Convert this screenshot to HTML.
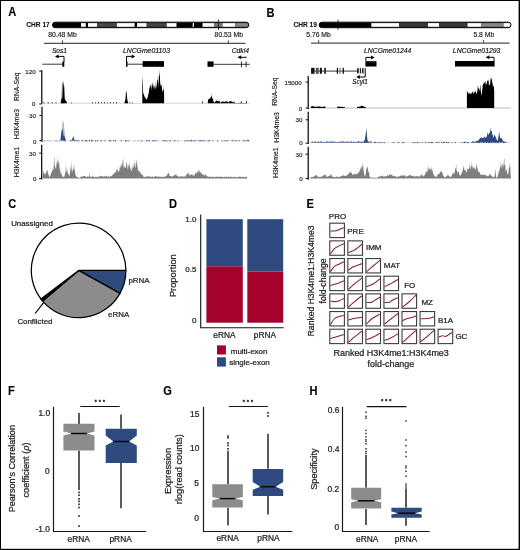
<!DOCTYPE html>
<html><head><meta charset="utf-8"><style>
html,body{margin:0;padding:0;background:#fff;}
svg{display:block;font-family:"Liberation Sans", sans-serif;}
svg{will-change:transform;}

</style></head><body>
<svg width="520" height="550" viewBox="0 0 520 550">
<rect width="520" height="550" fill="#fff"/>
<rect x="0" y="0" width="520" height="1" fill="#000"/>
<rect x="0" y="0" width="1" height="550" fill="#000"/>
<rect x="518.6" y="0" width="1.4" height="550" fill="#000"/>
<rect x="0" y="548.8" width="520" height="1.2" fill="#000"/>
<text transform="translate(8.19 16.44) scale(0.9 1)" font-size="12.333" font-weight="bold" fill="#000" stroke="#000" stroke-width="0.11">A</text>
<text transform="translate(266.49 16.54) scale(0.9 1)" font-size="12.333" font-weight="bold" fill="#000" stroke="#000" stroke-width="0.11">B</text>
<text transform="translate(8.34 208.04) scale(0.9 1)" font-size="12.333" font-weight="bold" fill="#000" stroke="#000" stroke-width="0.11">C</text>
<text transform="translate(168.99 208.44) scale(0.9 1)" font-size="12.333" font-weight="bold" fill="#000" stroke="#000" stroke-width="0.11">D</text>
<text transform="translate(306.6 208.44) scale(0.9 1)" font-size="12.333" font-weight="bold" fill="#000" stroke="#000" stroke-width="0.11">E</text>
<text transform="translate(7.96 395.24) scale(0.9 1)" font-size="12.333" font-weight="bold" fill="#000" stroke="#000" stroke-width="0.11">F</text>
<text transform="translate(163.18 395.14) scale(0.9 1)" font-size="12.333" font-weight="bold" fill="#000" stroke="#000" stroke-width="0.11">G</text>
<text transform="translate(309.59 395.44) scale(0.9 1)" font-size="12.333" font-weight="bold" fill="#000" stroke="#000" stroke-width="0.11">H</text>
<clipPath id="c52"><rect x="52.5" y="22.2" width="196.3" height="5.5" rx="2.75" ry="2.75"/></clipPath>
<g clip-path="url(#c52)">
<rect x="52.5" y="22.2" width="196.3" height="5.5" fill="#000"/>
<rect x="81" y="23.099999999999998" width="4.799999999999997" height="3.7" fill="#fff"/>
<rect x="88" y="23.099999999999998" width="9.299999999999997" height="3.7" fill="#fff"/>
<rect x="97.3" y="23.099999999999998" width="19.299999999999997" height="3.7" fill="#484848"/>
<rect x="116.8" y="23.099999999999998" width="17.799999999999997" height="3.7" fill="#fff"/>
<rect x="137" y="23.099999999999998" width="9.699999999999989" height="3.7" fill="#fff"/>
<rect x="146.7" y="23.099999999999998" width="20.0" height="3.7" fill="#444"/>
<rect x="166.7" y="23.099999999999998" width="9.800000000000011" height="3.7" fill="#fff"/>
<rect x="192.7" y="23.099999999999998" width="1.3000000000000114" height="3.7" fill="#fff"/>
<rect x="202.5" y="23.099999999999998" width="11.5" height="3.7" fill="#fff"/>
<rect x="214" y="23.099999999999998" width="8.5" height="3.7" fill="#777"/>
<rect x="222.5" y="23.099999999999998" width="12.699999999999989" height="3.7" fill="#fff"/>
<rect x="235.2" y="23.099999999999998" width="13.600000000000023" height="3.7" fill="#888"/>
</g>
<rect x="52.5" y="22.2" width="196.3" height="5.5" rx="2.75" ry="2.75" fill="none" stroke="#000" stroke-width="1"/>
<line x1="218.5" y1="19.599999999999998" x2="218.5" y2="29.9" stroke="#111" stroke-width="0.8"/>
<text transform="translate(26.31 27.27)" font-size="6.600" font-weight="bold" fill="#111" stroke="#111" stroke-width="0.08">CHR 17</text>
<clipPath id="c319"><rect x="319.2" y="22.2" width="191.8" height="5.5" rx="2.75" ry="2.75"/></clipPath>
<g clip-path="url(#c319)">
<rect x="319.2" y="22.2" width="191.8" height="5.5" fill="#000"/>
<rect x="371.3" y="23.099999999999998" width="27.69999999999999" height="3.7" fill="#fff"/>
<rect x="399" y="23.099999999999998" width="29" height="3.7" fill="#3a3a3a"/>
<rect x="428" y="23.099999999999998" width="11" height="3.7" fill="#fff"/>
<rect x="439" y="23.099999999999998" width="28.5" height="3.7" fill="#3a3a3a"/>
<rect x="467.5" y="23.099999999999998" width="13.5" height="3.7" fill="#fff"/>
<rect x="481" y="23.099999999999998" width="22.5" height="3.7" fill="#888"/>
<rect x="503.5" y="23.099999999999998" width="7.5" height="3.7" fill="#fff"/>
</g>
<rect x="319.2" y="22.2" width="191.8" height="5.5" rx="2.75" ry="2.75" fill="none" stroke="#000" stroke-width="1"/>
<line x1="338" y1="19.599999999999998" x2="338" y2="29.9" stroke="#111" stroke-width="0.8"/>
<text transform="translate(293.41 27.27)" font-size="6.600" font-weight="bold" fill="#111" stroke="#111" stroke-width="0.08">CHR 19</text>
<line x1="44" y1="43.3" x2="245.6" y2="43.3" stroke="#222" stroke-width="1"/>
<line x1="62.5" y1="40.3" x2="62.5" y2="43.3" stroke="#222" stroke-width="0.8"/>
<text transform="translate(48.32 37.28)" font-size="6.800" fill="#222" stroke="#222" stroke-width="0.16">80.48 Mb</text>
<line x1="228.4" y1="40.3" x2="228.4" y2="43.3" stroke="#222" stroke-width="0.8"/>
<text transform="translate(214.62 37.28)" font-size="6.800" fill="#222" stroke="#222" stroke-width="0.16">80.53 Mb</text>
<line x1="311" y1="43.1" x2="509.6" y2="43.1" stroke="#222" stroke-width="1"/>
<line x1="318.7" y1="40.1" x2="318.7" y2="43.1" stroke="#222" stroke-width="0.8"/>
<text transform="translate(306.22 37.28)" font-size="6.800" fill="#222" stroke="#222" stroke-width="0.16">5.76 Mb</text>
<line x1="483.6" y1="40.1" x2="483.6" y2="43.1" stroke="#222" stroke-width="0.8"/>
<text transform="translate(473.4 37.28)" font-size="6.800" fill="#222" stroke="#222" stroke-width="0.16">5.8 Mb</text>
<text transform="translate(51.93 52.67)" font-size="6.600" font-style="italic" fill="#111" stroke="#111" stroke-width="0.16">Sos1</text>
<text transform="translate(122.9 53.0)" font-size="6.850" font-style="italic" fill="#111" stroke="#111" stroke-width="0.16">LNCGme01103</text>
<text transform="translate(231.65 53.08)" font-size="6.800" font-style="italic" fill="#111" stroke="#111" stroke-width="0.16">Cdkl4</text>
<line x1="42.3" y1="64.2" x2="62.5" y2="64.2" stroke="#222" stroke-width="0.9"/>
<rect x="62.3" y="61.6" width="2" height="5.2" fill="#000"/>
<line x1="64" y1="56.4" x2="64" y2="62" stroke="#000" stroke-width="1"/>
<line x1="64" y1="56.4" x2="57.5" y2="56.4" stroke="#000" stroke-width="1"/>
<path d="M55 56.4 L58.6 54.4 L58.6 58.4 Z" fill="#000"/>
<line x1="126.5" y1="56.4" x2="126.5" y2="66.5" stroke="#000" stroke-width="1"/>
<line x1="126.5" y1="56.4" x2="132.7" y2="56.4" stroke="#000" stroke-width="1"/>
<path d="M135.2 56.4 L131.6 54.4 L131.6 58.4 Z" fill="#000"/>
<rect x="126" y="61.5" width="1.5" height="5.2" fill="#000"/>
<line x1="127" y1="64.2" x2="143" y2="64.2" stroke="#222" stroke-width="0.9"/>
<rect x="142.7" y="61.1" width="21.3" height="5.7" fill="#000"/>
<rect x="207.5" y="61.4" width="6.1" height="5.4" fill="#000"/>
<line x1="213.6" y1="64.3" x2="249.8" y2="64.3" stroke="#222" stroke-width="0.9"/>
<line x1="241.5" y1="61.4" x2="241.5" y2="67.1" stroke="#000" stroke-width="0.8"/>
<line x1="246.1" y1="61.4" x2="246.1" y2="67.1" stroke="#000" stroke-width="0.8"/>
<line x1="246.7" y1="57.3" x2="240.0" y2="57.3" stroke="#000" stroke-width="1"/>
<path d="M237.5 57.3 L241.1 55.3 L241.1 59.3 Z" fill="#000"/>
<text transform="translate(364.03 52.94)" font-size="6.800" font-style="italic" fill="#111" stroke="#111" stroke-width="0.16">LNCGme01244</text>
<text transform="translate(452.85 53.25)" font-size="6.850" font-style="italic" fill="#111" stroke="#111" stroke-width="0.16">LNCGme01293</text>
<text transform="translate(352.3 83.83)" font-size="6.300" font-style="italic" fill="#111" stroke="#111" stroke-width="0.16">Scyl1</text>
<rect x="365.4" y="61.2" width="11.1" height="5.3" fill="#000"/>
<line x1="365.9" y1="57.4" x2="365.9" y2="61.2" stroke="#000" stroke-width="1"/>
<line x1="365.9" y1="57.4" x2="372.1" y2="57.4" stroke="#000" stroke-width="1"/>
<path d="M374.6 57.4 L371.0 55.4 L371.0 59.4 Z" fill="#000"/>
<rect x="455" y="61" width="39.6" height="5.5" fill="#000"/>
<line x1="494" y1="57.3" x2="494" y2="61" stroke="#000" stroke-width="1"/>
<line x1="494" y1="57.3" x2="488.2" y2="57.3" stroke="#000" stroke-width="1"/>
<path d="M485.7 57.3 L489.3 55.3 L489.3 59.3 Z" fill="#000"/>
<line x1="311" y1="71.1" x2="358" y2="71.1" stroke="#222" stroke-width="0.9"/>
<rect x="311.1" y="67.8" width="3.3999999999999773" height="6" fill="#111"/>
<rect x="315.8" y="67.8" width="3.0" height="6" fill="#555"/>
<rect x="319.9" y="67.8" width="2.0" height="6" fill="#111"/>
<rect x="324.2" y="67.8" width="1.6999999999999886" height="6" fill="#222"/>
<rect x="336.8" y="67.8" width="1.1999999999999886" height="6" fill="#111"/>
<rect x="339.4" y="67.8" width="1.2000000000000455" height="6" fill="#777"/>
<rect x="342.6" y="67.8" width="1.2999999999999545" height="6" fill="#111"/>
<rect x="357.2" y="68.2" width="1.5" height="5.2" fill="#000"/>
<rect x="359.8" y="68.2" width="1.3000000000000114" height="5.2" fill="#222"/>
<rect x="362.2" y="68.2" width="1.3000000000000114" height="5.2" fill="#000"/>
<line x1="365.2" y1="68.2" x2="365.2" y2="77" stroke="#000" stroke-width="1"/>
<line x1="365.2" y1="77" x2="358.7" y2="77" stroke="#000" stroke-width="1"/>
<path d="M356.2 77 L359.8 75.0 L359.8 79.0 Z" fill="#000"/>
<text transform="translate(18.69 100.9) rotate(-90)" font-size="6.700" fill="#222" stroke="#222" stroke-width="0.16">RNA-Seq</text>
<line x1="41.8" y1="70.2" x2="41.8" y2="104" stroke="#000" stroke-width="1.2"/>
<line x1="39.199999999999996" y1="71.1" x2="41.8" y2="71.1" stroke="#111" stroke-width="1"/>
<text transform="translate(25.33 73.78)" font-size="6.200" fill="#222" stroke="#222" stroke-width="0.16">120</text>
<line x1="39.199999999999996" y1="104" x2="41.8" y2="104" stroke="#111" stroke-width="1"/>
<text transform="translate(31.93 106.13)" font-size="6.200" fill="#222" stroke="#222" stroke-width="0.16">0</text>
<line x1="42" y1="103.3" x2="250" y2="103.3" stroke="#bbb" stroke-width="0.6"/>
<rect x="43.5" y="102.1" width="0.8" height="1.2" fill="#000"/>
<rect x="47.8" y="102.0" width="0.8" height="1.3" fill="#000"/>
<rect x="51.8" y="102.1" width="0.8" height="1.2" fill="#000"/>
<rect x="55.6" y="102.3" width="0.8" height="1" fill="#000"/>
<rect x="71.1" y="102.5" width="0.8" height="0.8" fill="#000"/>
<rect x="92" y="102.1" width="0.8" height="1.2" fill="#000"/>
<rect x="95" y="102.3" width="0.8" height="1" fill="#000"/>
<rect x="98" y="101.89999999999999" width="0.8" height="1.4" fill="#000"/>
<rect x="101" y="102.3" width="0.8" height="1" fill="#000"/>
<rect x="104" y="102.0" width="0.8" height="1.3" fill="#000"/>
<rect x="107" y="102.39999999999999" width="0.8" height="0.9" fill="#000"/>
<rect x="110" y="102.1" width="0.8" height="1.2" fill="#000"/>
<rect x="113" y="102.3" width="0.8" height="1" fill="#000"/>
<rect x="116" y="102.0" width="0.8" height="1.3" fill="#000"/>
<rect x="129.5" y="102.3" width="0.8" height="1" fill="#000"/>
<rect x="132" y="102.5" width="0.8" height="0.8" fill="#000"/>
<path d="M61.3 103.3 L61.30 101.00 L61.60 93.50 L61.90 86.00 L62.20 83.30 L62.40 81.50 L62.50 81.75 L62.80 82.50 L63.00 83.00 L63.10 84.80 L63.40 90.20 L63.50 92.00 L63.70 95.20 L64.00 100.00 L64 103.3 Z" fill="#808080"/>
<path d="M60.8 103.3 L60.80 101.00 L61.10 100.43 L61.40 99.52 L61.50 99.00 L61.70 98.68 L62.00 98.46 L62.30 97.86 L62.50 97.00 L62.60 95.72 L62.90 90.78 L63.20 86.00 L63.50 83.77 L63.70 80.20 L63.80 81.41 L64.10 86.60 L64.20 86.00 L64.40 90.52 L64.70 97.29 L64.80 99.00 L65.00 99.64 L65.30 100.06 L65.60 100.41 L65.80 100.50 L65.90 100.70 L66.20 101.28 L66.50 101.62 L66.80 102.00 L66.8 103.3 Z" fill="#000"/>
<path d="M124.5 103.3 L124.50 102.50 L124.80 101.49 L125.10 100.54 L125.40 99.54 L125.50 99.00 L125.70 95.94 L126.00 90.60 L126.30 91.64 L126.60 92.00 L126.90 95.66 L127.20 99.00 L127.50 100.42 L127.80 101.64 L128.00 102.50 L128 103.3 Z" fill="#000"/>
<path d="M142.3 103.3 L142.30 76.00 L142.65 84.16 L142.80 75.80 L143.00 88.89 L143.10 91.00 L143.35 94.07 L143.70 93.69 L144.05 95.41 L144.20 95.00 L144.40 97.57 L144.75 95.85 L145.10 98.77 L145.45 98.31 L145.80 97.30 L146.15 99.44 L146.50 98.79 L146.85 99.91 L147.20 98.66 L147.30 98.00 L147.55 97.50 L147.90 96.71 L148.25 94.28 L148.50 92.70 L148.60 95.05 L148.95 90.94 L149.30 89.24 L149.60 84.20 L149.65 87.39 L150.00 88.22 L150.35 85.12 L150.70 84.15 L151.05 87.72 L151.20 83.50 L151.40 86.02 L151.75 90.66 L152.10 85.23 L152.45 85.44 L152.70 82.30 L152.80 82.47 L153.15 84.25 L153.50 88.93 L153.80 83.50 L153.85 88.26 L154.20 85.19 L154.55 90.01 L154.90 85.44 L155.25 87.49 L155.40 79.20 L155.60 88.12 L155.95 89.36 L156.30 84.03 L156.50 82.70 L156.65 88.84 L157.00 85.19 L157.30 74.20 L157.35 81.62 L157.70 79.06 L158.00 80.40 L158.05 88.55 L158.40 82.74 L158.75 79.20 L159.10 72.38 L159.20 70.00 L159.45 74.29 L159.80 76.42 L160.00 76.50 L160.15 84.86 L160.50 85.02 L160.80 81.20 L160.85 87.07 L161.20 84.34 L161.55 85.66 L161.90 87.30 L162.25 92.08 L162.60 91.20 L162.95 90.68 L163.00 85.00 L163.30 89.66 L163.65 90.04 L163.80 88.00 L164.00 93.45 L164.10 90.00 L164.1 103.3 Z" fill="#000"/>
<path d="M207.8 103.3 L207.80 102.50 L208.20 99.00 L208.60 99.55 L209.00 99.19 L209.40 98.59 L209.50 98.50 L209.80 98.59 L210.20 98.47 L210.50 97.50 L210.60 97.75 L211.00 96.41 L211.40 96.54 L211.50 94.10 L211.80 95.96 L212.20 98.00 L212.60 98.65 L213.00 99.00 L213.40 100.94 L213.80 102.23 L214.00 102.80 L214.20 102.73 L214.60 102.19 L215.00 102.00 L215.40 101.63 L215.50 101.00 L215.80 101.19 L216.20 100.87 L216.50 99.90 L216.60 100.49 L217.00 100.86 L217.40 101.02 L217.80 101.03 L218.00 100.50 L218.20 101.17 L218.60 101.09 L219.00 101.40 L219.40 100.99 L219.70 101.00 L219.80 101.43 L220.20 102.38 L220.50 102.80 L220.60 102.81 L221.00 102.46 L221.40 102.12 L221.80 101.89 L222.10 101.20 L222.20 101.30 L222.60 101.31 L223.00 101.64 L223.40 101.71 L223.80 101.96 L224.00 101.60 L224.20 101.94 L224.60 101.73 L225.00 101.67 L225.40 101.27 L225.80 101.53 L226.00 101.00 L226.20 101.60 L226.60 101.18 L227.00 101.50 L227.40 101.78 L227.80 101.68 L227.90 101.50 L228.20 102.43 L228.50 102.80 L228.60 102.63 L229.00 101.50 L229.40 101.41 L229.80 101.34 L230.20 101.44 L230.50 100.90 L230.60 101.30 L231.00 101.49 L231.40 101.24 L231.80 101.45 L232.20 101.30 L232.60 102.26 L233.00 102.80 L233.40 102.37 L233.80 101.86 L234.10 101.50 L234.20 101.72 L234.60 102.33 L235.00 102.90 L235.40 102.93 L235.80 102.98 L236.20 102.95 L236.60 102.96 L237.00 103.00 L237.40 103.00 L237.80 102.97 L238.20 102.97 L238.60 102.93 L239.00 102.90 L239.40 102.96 L239.80 102.91 L240.20 102.90 L240.50 102.90 L240.60 102.60 L241.00 101.65 L241.30 100.40 L241.40 101.25 L241.80 102.40 L242.00 102.90 L242.20 102.98 L242.60 102.98 L243.00 102.94 L243.40 102.91 L243.80 102.92 L244.20 102.95 L244.60 102.93 L245.00 102.92 L245.40 102.99 L245.80 102.93 L246.00 102.90 L246.20 101.77 L246.60 99.40 L247.00 103.00 L247 103.3 Z" fill="#000"/>
<rect x="202" y="101.6" width="0.9" height="1.7" fill="#000"/>
<text transform="translate(19.4 139.28) rotate(-90)" font-size="6.850" fill="#222" stroke="#222" stroke-width="0.16">H3K4me3</text>
<line x1="42" y1="106.8" x2="42" y2="142" stroke="#000" stroke-width="1.2"/>
<line x1="39.4" y1="115.4" x2="42" y2="115.4" stroke="#111" stroke-width="1"/>
<text transform="translate(29.1 118.13)" font-size="6.200" fill="#222" stroke="#222" stroke-width="0.16">30</text>
<line x1="39.4" y1="140.6" x2="42" y2="140.6" stroke="#111" stroke-width="1"/>
<text transform="translate(33.03 143.63)" font-size="6.200" fill="#222" stroke="#222" stroke-width="0.16">0</text>
<line x1="42" y1="140.8" x2="250" y2="140.8" stroke="#c8cce0" stroke-width="0.6"/>
<rect x="44.10711303100254" y="140.61922194190714" width="0.9" height="0.6807780580928819" fill="#3a4868"/>
<rect x="47.48049414133801" y="140.34043994674" width="0.9" height="0.9595600532600332" fill="#3a4868"/>
<rect x="50.24083209072062" y="140.66249973807797" width="0.9" height="0.6375002619220373" fill="#3a4868"/>
<rect x="54.57622302037872" y="140.6797552677268" width="0.9" height="0.6202447322732317" fill="#3a4868"/>
<rect x="56.54291125743995" y="140.4261798957981" width="0.9" height="0.8738201042019046" fill="#3a4868"/>
<rect x="59.49590628711523" y="140.49047139006828" width="0.9" height="0.8095286099317255" fill="#3a4868"/>
<rect x="63.82919602639207" y="140.17297504423655" width="0.9" height="1.1270249557634702" fill="#3a4868"/>
<rect x="65.00854576289366" y="140.22372940653622" width="0.9" height="1.076270593463799" fill="#3a4868"/>
<rect x="70.06017488303445" y="140.0245134328326" width="0.9" height="1.2754865671673934" fill="#3a4868"/>
<rect x="71.52304575679364" y="140.1082106940186" width="0.9" height="1.1917893059814055" fill="#3a4868"/>
<rect x="74.15110088681928" y="140.05560590397093" width="0.9" height="1.2443940960290805" fill="#3a4868"/>
<rect x="75.644323635535" y="139.90881837578937" width="0.9" height="1.391181624210651" fill="#3a4868"/>
<rect x="77.15561887716213" y="140.3494351760456" width="0.9" height="0.9505648239544049" fill="#3a4868"/>
<rect x="78.5786442059021" y="140.4064787212863" width="0.9" height="0.8935212787137146" fill="#3a4868"/>
<rect x="81.77489659188304" y="139.81374382343316" width="0.9" height="1.4862561765668665" fill="#3a4868"/>
<rect x="83.54257806472522" y="140.565483165862" width="0.9" height="0.7345168341380277" fill="#3a4868"/>
<rect x="85.05063265060559" y="140.04825980397436" width="0.9" height="1.2517401960256431" fill="#3a4868"/>
<rect x="86.31909497746156" y="140.12110249526594" width="0.9" height="1.1788975047340764" fill="#3a4868"/>
<rect x="87.51122292074325" y="140.66059073997758" width="0.9" height="0.6394092600224273" fill="#3a4868"/>
<rect x="89.10986473236332" y="139.9482394110895" width="0.9" height="1.3517605889105044" fill="#3a4868"/>
<rect x="90.97950227029533" y="139.89725187970936" width="0.9" height="1.40274812029066" fill="#3a4868"/>
<rect x="92.28409575947717" y="140.13540108810128" width="0.9" height="1.1645989118987339" fill="#3a4868"/>
<rect x="95.19558929062931" y="140.03953308887074" width="0.9" height="1.2604669111292657" fill="#3a4868"/>
<rect x="96.83326512492815" y="139.96900297585887" width="0.9" height="1.3309970241411546" fill="#3a4868"/>
<rect x="99.83617768015037" y="140.57462315098272" width="0.9" height="0.7253768490172838" fill="#3a4868"/>
<rect x="101.16615024227887" y="140.22861844392435" width="0.9" height="1.0713815560756657" fill="#3a4868"/>
<rect x="104.33703763199388" y="140.2460660538701" width="0.9" height="1.0539339461299146" fill="#3a4868"/>
<rect x="108.86751673060668" y="139.9485561659067" width="0.9" height="1.3514438340933237" fill="#3a4868"/>
<rect x="110.30729688346119" y="139.97579015482611" width="0.9" height="1.3242098451738937" fill="#3a4868"/>
<rect x="113.3199712625475" y="139.95623179064822" width="0.9" height="1.3437682093517822" fill="#3a4868"/>
<rect x="115.0649006765231" y="140.1743446348744" width="0.9" height="1.1256553651256147" fill="#3a4868"/>
<rect x="120.83570828389863" y="139.89645323723505" width="0.9" height="1.403546762764957" fill="#3a4868"/>
<rect x="125.07297317263051" y="140.08539416744955" width="0.9" height="1.2146058325504505" fill="#3a4868"/>
<rect x="126.5435276597939" y="140.07600647823065" width="0.9" height="1.223993521769351" fill="#3a4868"/>
<rect x="128.0438724601836" y="140.49305335151718" width="0.9" height="0.8069466484828481" fill="#3a4868"/>
<rect x="134.4296719296729" y="140.67195552633945" width="0.9" height="0.6280444736605576" fill="#3a4868"/>
<rect x="137.52969970019424" y="140.58021612187173" width="0.9" height="0.7197838781282893" fill="#3a4868"/>
<rect x="140.5715024773514" y="140.37536327120986" width="0.9" height="0.9246367287901376" fill="#3a4868"/>
<rect x="141.79235646499453" y="140.60557517603817" width="0.9" height="0.6944248239618274" fill="#3a4868"/>
<rect x="146.2589130907986" y="139.94776092018003" width="0.9" height="1.352239079819974" fill="#3a4868"/>
<rect x="147.70346968660328" y="140.19732547815366" width="0.9" height="1.1026745218463412" fill="#3a4868"/>
<rect x="149.19111534100261" y="140.13500960233097" width="0.9" height="1.1649903976690517" fill="#3a4868"/>
<rect x="152.332430148685" y="140.1363961869605" width="0.9" height="1.1636038130395074" fill="#3a4868"/>
<rect x="153.51084918849622" y="140.0874022415273" width="0.9" height="1.2125977584727385" fill="#3a4868"/>
<rect x="155.37435624433513" y="140.25963511662624" width="0.9" height="1.040364883373779" fill="#3a4868"/>
<rect x="156.53857447555444" y="140.69701710558496" width="0.9" height="0.6029828944150631" fill="#3a4868"/>
<rect x="162.65933856340612" y="139.98207220313625" width="0.9" height="1.3179277968637673" fill="#3a4868"/>
<rect x="164.46739845804075" y="140.02656116679867" width="0.9" height="1.273438833201335" fill="#3a4868"/>
<rect x="165.57773333558342" y="140.2473260528738" width="0.9" height="1.0526739471262083" fill="#3a4868"/>
<rect x="167.54684828971017" y="140.2183201671932" width="0.9" height="1.0816798328067938" fill="#3a4868"/>
<rect x="170.08962076844244" y="140.1066304596261" width="0.9" height="1.1933695403739148" fill="#3a4868"/>
<rect x="173.42025046792796" y="140.64055467940008" width="0.9" height="0.6594453205999368" fill="#3a4868"/>
<rect x="174.53451590746457" y="140.036890504312" width="0.9" height="1.2631094956880253" fill="#3a4868"/>
<rect x="177.54344845683391" y="140.4730258216836" width="0.9" height="0.8269741783164211" fill="#3a4868"/>
<rect x="184.0137371818233" y="140.63299500002324" width="0.9" height="0.6670049999767561" fill="#3a4868"/>
<rect x="185.51766498143232" y="140.46099760002414" width="0.9" height="0.839002399975859" fill="#3a4868"/>
<rect x="186.7034910663708" y="140.04359846576455" width="0.9" height="1.256401534235457" fill="#3a4868"/>
<rect x="188.55600157044273" y="140.51530422562612" width="0.9" height="0.7846957743738778" fill="#3a4868"/>
<rect x="189.5775348799372" y="140.03415426772133" width="0.9" height="1.2658457322786676" fill="#3a4868"/>
<rect x="191.1430617016768" y="139.82183841530752" width="0.9" height="1.4781615846924936" fill="#3a4868"/>
<rect x="192.59686945495858" y="140.25544609903562" width="0.9" height="1.0445539009643952" fill="#3a4868"/>
<rect x="194.1210609492611" y="140.35569557049078" width="0.9" height="0.9443044295092364" fill="#3a4868"/>
<rect x="195.68300323872754" y="140.26889085233645" width="0.9" height="1.0311091476635634" fill="#3a4868"/>
<rect x="198.8000531599171" y="140.0846730935679" width="0.9" height="1.2153269064321162" fill="#3a4868"/>
<rect x="200.20820061327672" y="140.00972690476425" width="0.9" height="1.2902730952357704" fill="#3a4868"/>
<rect x="201.65026925371714" y="140.14472338579958" width="0.9" height="1.1552766142004247" fill="#3a4868"/>
<rect x="203.4398482300594" y="140.12151332215623" width="0.9" height="1.1784866778437877" fill="#3a4868"/>
<rect x="204.61367389789626" y="140.630275362434" width="0.9" height="0.6697246375660206" fill="#3a4868"/>
<rect x="206.5607857038694" y="140.5673174344108" width="0.9" height="0.7326825655892166" fill="#3a4868"/>
<rect x="207.99135208420503" y="140.4714537465097" width="0.9" height="0.8285462534903058" fill="#3a4868"/>
<rect x="209.29700094407457" y="140.03110446837846" width="0.9" height="1.2688955316215615" fill="#3a4868"/>
<rect x="212.3040115712931" y="140.4260245758367" width="0.9" height="0.8739754241633093" fill="#3a4868"/>
<rect x="216.99937192595866" y="140.18901447191763" width="0.9" height="1.1109855280823775" fill="#3a4868"/>
<rect x="221.20853130809314" y="140.68877770800756" width="0.9" height="0.6112222919924455" fill="#3a4868"/>
<rect x="222.57789114869053" y="140.64540508734274" width="0.9" height="0.6545949126572775" fill="#3a4868"/>
<rect x="224.44453351890976" y="140.4581045107897" width="0.9" height="0.8418954892103232" fill="#3a4868"/>
<rect x="225.59794791216584" y="140.0951985792103" width="0.9" height="1.2048014207897122" fill="#3a4868"/>
<rect x="227.50476138911046" y="140.0770333446866" width="0.9" height="1.222966655313403" fill="#3a4868"/>
<rect x="231.6453277603955" y="140.09186310886852" width="0.9" height="1.2081368911314971" fill="#3a4868"/>
<rect x="233.27567176603682" y="140.43822916941357" width="0.9" height="0.8617708305864321" fill="#3a4868"/>
<rect x="234.76749476494024" y="140.23511787536003" width="0.9" height="1.064882124639967" fill="#3a4868"/>
<rect x="236.57707192001757" y="140.28180343196314" width="0.9" height="1.018196568036883" fill="#3a4868"/>
<rect x="239.14666789636513" y="140.2802947611328" width="0.9" height="1.0197052388671992" fill="#3a4868"/>
<rect x="242.2139503502084" y="140.5933474235686" width="0.9" height="0.7066525764314111" fill="#3a4868"/>
<rect x="243.72897596396754" y="139.89570336644226" width="0.9" height="1.4042966335577431" fill="#3a4868"/>
<rect x="245.30165840382583" y="140.52067497312646" width="0.9" height="0.7793250268735528" fill="#3a4868"/>
<rect x="246.8028413837086" y="139.8196868369187" width="0.9" height="1.4803131630813242" fill="#3a4868"/>
<rect x="248.158501211481" y="139.85737109314167" width="0.9" height="1.4426289068583449" fill="#3a4868"/>
<path d="M60.5 140.6 L60.50 140.00 L60.80 138.20 L61.10 136.40 L61.40 134.60 L61.50 134.00 L61.70 131.65 L62.00 128.14 L62.30 124.62 L62.60 121.10 L62.90 121.23 L63.20 121.37 L63.50 121.50 L63.80 124.05 L64.10 126.60 L64.40 129.15 L64.50 130.00 L64.70 132.29 L65.00 135.71 L65.20 138.00 L65.30 138.25 L65.60 139.00 L65.90 139.75 L66.00 140.00 L66 140.6 Z" fill="#b0b6c6"/>
<path d="M60.5 140.6 L60.50 140.00 L60.80 137.18 L61.10 134.64 L61.20 133.00 L61.40 132.61 L61.70 130.36 L62.00 127.90 L62.30 129.52 L62.60 130.43 L62.80 130.00 L62.90 131.40 L63.20 133.52 L63.50 135.34 L63.60 136.00 L63.80 136.46 L64.10 136.11 L64.40 136.07 L64.50 136.00 L64.70 137.04 L65.00 137.77 L65.30 138.85 L65.50 139.50 L65.60 139.69 L65.90 140.25 L66.00 140.40 L66 140.6 Z" fill="#2e4a7e"/>
<path d="M72 140.6 L72.00 140.00 L72.30 139.00 L72.60 137.90 L72.90 136.93 L73.20 135.80 L73.50 136.81 L73.80 137.71 L74.10 138.60 L74.40 139.45 L74.60 140.00 L74.6 140.6 Z" fill="#2e4a7e"/>
<text transform="translate(19.0 177.28) rotate(-90)" font-size="6.850" fill="#222" stroke="#222" stroke-width="0.16">H3K4me1</text>
<line x1="41.7" y1="144.7" x2="41.7" y2="179.5" stroke="#000" stroke-width="1.2"/>
<line x1="39.1" y1="153.1" x2="41.7" y2="153.1" stroke="#111" stroke-width="1"/>
<text transform="translate(29.1 155.63)" font-size="6.200" fill="#222" stroke="#222" stroke-width="0.16">30</text>
<line x1="39.1" y1="178.6" x2="41.7" y2="178.6" stroke="#111" stroke-width="1"/>
<text transform="translate(33.03 181.03)" font-size="6.200" fill="#222" stroke="#222" stroke-width="0.16">0</text>
<path d="M42.5 178.4 L42.50 176.00 L43.00 174.67 L43.50 169.80 L44.00 173.27 L44.50 173.78 L45.00 173.69 L45.20 172.70 L45.50 174.54 L46.00 173.58 L46.50 171.21 L47.00 170.85 L47.50 169.80 L48.00 173.07 L48.50 174.37 L49.00 176.47 L49.20 177.30 L49.50 176.91 L50.00 175.65 L50.50 175.87 L51.00 172.70 L51.50 173.07 L52.00 170.88 L52.50 170.13 L52.70 168.00 L53.00 169.90 L53.50 169.22 L54.00 159.47 L54.40 156.00 L54.50 165.35 L55.00 165.51 L55.50 169.72 L55.60 167.00 L56.00 169.22 L56.50 164.33 L57.00 160.14 L57.50 164.40 L57.90 155.40 L58.00 159.31 L58.50 164.36 L59.00 160.00 L59.50 167.44 L60.00 171.06 L60.20 168.00 L60.50 172.72 L61.00 173.91 L61.30 172.70 L61.50 173.58 L62.00 175.80 L62.50 176.70 L63.00 176.77 L63.50 176.70 L64.00 177.12 L64.20 176.70 L64.50 176.12 L65.00 173.89 L65.50 172.23 L66.00 164.60 L66.50 171.16 L67.00 171.36 L67.10 168.00 L67.50 172.76 L68.00 173.52 L68.30 173.80 L68.50 174.41 L69.00 175.56 L69.40 176.00 L69.50 175.92 L70.00 172.32 L70.50 168.07 L71.00 165.43 L71.10 159.40 L71.50 167.63 L72.00 172.19 L72.30 170.40 L72.50 172.45 L73.00 167.72 L73.50 170.59 L74.00 163.50 L74.50 169.18 L75.00 171.61 L75.20 172.70 L75.50 175.17 L76.00 175.83 L76.50 176.65 L76.90 176.70 L77.00 177.20 L77.50 177.36 L78.00 177.30 L78.50 177.59 L79.00 177.83 L79.20 177.90 L79.50 177.99 L80.00 177.76 L80.50 177.07 L81.00 176.56 L81.50 176.63 L82.00 176.18 L82.10 175.60 L82.50 176.88 L83.00 176.44 L83.50 175.85 L84.00 176.02 L84.50 176.04 L85.00 175.96 L85.50 176.80 L85.60 176.00 L86.00 177.00 L86.50 176.99 L87.00 176.67 L87.50 176.57 L88.00 176.39 L88.50 176.65 L89.00 176.78 L89.20 176.50 L89.50 173.75 L89.60 172.10 L90.00 176.50 L90.50 176.82 L91.00 177.23 L91.50 176.46 L92.00 176.94 L92.50 176.17 L93.00 176.00 L93.50 176.82 L94.00 177.06 L94.50 177.01 L95.00 176.73 L95.50 176.76 L96.00 177.32 L96.50 176.70 L97.00 176.94 L97.50 176.76 L98.00 176.83 L98.50 176.89 L99.00 176.36 L99.50 176.93 L100.00 175.60 L100.50 176.36 L101.00 175.85 L101.50 176.30 L102.00 176.13 L102.50 176.64 L103.00 176.20 L103.50 176.87 L104.00 176.01 L104.50 176.19 L105.00 176.56 L105.50 176.84 L106.00 175.50 L106.50 176.04 L107.00 176.45 L107.50 176.74 L108.00 176.39 L108.50 176.24 L109.00 176.30 L109.50 177.11 L110.00 176.68 L110.50 176.46 L111.00 175.60 L111.50 176.38 L112.00 175.20 L112.50 174.98 L113.00 175.10 L113.50 173.80 L114.00 172.84 L114.50 173.79 L115.00 171.32 L115.50 172.68 L116.00 172.05 L116.30 168.00 L116.50 169.31 L117.00 171.81 L117.50 169.47 L118.00 169.80 L118.50 172.33 L119.00 171.54 L119.50 169.90 L119.80 166.30 L120.00 167.72 L120.50 164.97 L121.00 169.21 L121.50 162.30 L122.00 166.76 L122.50 158.70 L123.00 164.99 L123.30 155.40 L123.50 166.11 L124.00 168.29 L124.40 164.00 L124.50 168.17 L125.00 166.57 L125.50 168.23 L125.60 168.00 L126.00 167.24 L126.50 162.86 L126.70 161.70 L127.00 162.81 L127.50 167.89 L128.00 169.52 L128.40 165.20 L128.50 165.16 L129.00 164.40 L129.50 168.26 L129.60 160.00 L130.00 165.04 L130.50 169.47 L130.80 168.00 L131.00 170.69 L131.50 170.32 L132.00 170.65 L132.50 165.20 L133.00 168.44 L133.50 166.89 L134.00 160.97 L134.20 160.00 L134.50 167.86 L135.00 162.92 L135.40 164.00 L135.50 168.83 L136.00 166.15 L136.50 158.80 L137.00 163.05 L137.50 168.15 L137.70 165.80 L138.00 171.59 L138.50 170.22 L139.00 171.55 L139.40 169.80 L139.50 170.24 L140.00 173.44 L140.50 173.32 L141.00 172.26 L141.10 172.10 L141.50 175.21 L142.00 174.84 L142.50 174.70 L142.90 175.00 L143.00 175.45 L143.50 176.81 L144.00 177.10 L144.50 177.36 L144.60 176.70 L145.00 176.64 L145.50 177.07 L146.00 176.49 L146.50 176.19 L147.00 176.66 L147.50 176.63 L148.00 175.60 L148.50 176.18 L149.00 176.68 L149.50 176.25 L150.00 176.77 L150.50 176.89 L151.00 177.23 L151.50 176.61 L152.00 176.50 L152.50 176.76 L153.00 176.43 L153.50 177.23 L154.00 176.99 L154.50 176.71 L155.00 176.17 L155.50 176.11 L156.00 176.00 L156.50 176.85 L157.00 176.71 L157.50 176.69 L158.00 176.32 L158.50 177.08 L159.00 176.55 L159.50 176.67 L160.00 176.50 L160.50 176.66 L161.00 176.77 L161.50 176.99 L162.00 176.97 L162.50 176.90 L163.00 176.47 L163.50 177.12 L164.00 176.98 L164.50 176.39 L165.00 176.10 L165.50 176.82 L166.00 176.62 L166.50 175.54 L167.00 175.61 L167.50 174.01 L168.00 173.80 L168.50 173.15 L169.00 172.70 L169.50 175.53 L170.00 176.00 L170.50 175.90 L171.00 176.00 L171.50 176.53 L172.00 176.72 L172.50 176.45 L173.00 176.13 L173.50 176.00 L174.00 175.50 L174.50 175.05 L175.00 174.75 L175.50 175.38 L176.00 172.70 L176.50 175.41 L177.00 175.93 L177.10 175.60 L177.50 176.42 L178.00 176.00 L178.50 176.69 L179.00 176.66 L179.50 176.69 L180.00 176.82 L180.50 176.03 L181.00 176.41 L181.50 176.72 L181.70 176.00 L182.00 176.67 L182.50 176.06 L183.00 176.59 L183.50 176.90 L184.00 176.33 L184.50 176.52 L185.00 176.20 L185.50 176.66 L186.00 175.62 L186.50 174.39 L187.00 173.68 L187.50 172.81 L188.00 174.69 L188.50 173.45 L188.60 171.00 L189.00 174.74 L189.50 175.60 L189.80 175.00 L190.00 174.90 L190.50 175.22 L191.00 174.25 L191.50 175.06 L192.00 173.68 L192.10 173.30 L192.50 174.97 L193.00 175.81 L193.50 175.51 L193.80 175.60 L194.00 175.26 L194.50 175.84 L195.00 174.03 L195.50 172.00 L196.00 173.86 L196.50 172.94 L197.00 173.35 L197.30 169.80 L197.50 172.81 L198.00 172.44 L198.50 170.84 L199.00 170.40 L199.50 172.15 L199.60 168.60 L200.00 173.27 L200.50 172.45 L201.00 171.71 L201.30 171.00 L201.50 173.92 L202.00 174.09 L202.50 174.92 L203.00 173.80 L203.50 174.65 L204.00 175.62 L204.50 175.47 L205.00 174.75 L205.40 173.30 L205.50 174.43 L206.00 174.72 L206.50 176.15 L207.00 176.39 L207.50 176.13 L207.70 176.00 L208.00 176.66 L208.50 176.84 L209.00 176.85 L209.50 176.26 L210.00 176.93 L210.50 176.73 L211.00 176.97 L211.50 176.96 L212.00 176.50 L212.50 176.49 L213.00 177.03 L213.50 177.16 L214.00 176.69 L214.50 177.14 L215.00 177.31 L215.50 176.50 L216.00 176.92 L216.50 176.55 L217.00 176.92 L217.50 176.47 L218.00 176.85 L218.50 177.11 L219.00 177.24 L219.50 176.73 L220.00 176.30 L220.50 176.40 L221.00 177.18 L221.50 176.69 L222.00 176.94 L222.50 176.83 L223.00 177.16 L223.50 177.05 L224.00 176.85 L224.50 176.50 L225.00 177.23 L225.50 176.91 L226.00 176.65 L226.50 176.52 L227.00 177.19 L227.50 177.26 L228.00 176.59 L228.50 176.58 L229.00 177.00 L229.50 177.36 L230.00 176.60 L230.50 177.09 L231.00 176.66 L231.50 176.88 L232.00 176.71 L232.50 177.25 L233.00 176.72 L233.50 177.18 L234.00 177.02 L234.50 176.64 L235.00 176.65 L235.50 177.19 L236.00 177.16 L236.50 176.99 L237.00 176.88 L237.50 176.99 L238.00 177.21 L238.50 177.10 L239.00 176.67 L239.50 176.50 L240.00 176.40 L240.50 176.81 L241.00 176.64 L241.50 177.29 L242.00 176.60 L242.50 177.24 L243.00 176.83 L243.50 176.88 L244.00 176.83 L244.50 177.11 L245.00 177.03 L245.50 176.90 L246.00 177.04 L246.50 176.86 L247.00 176.60 L247.3 178.4 Z" fill="#7e7e7e"/>
<text transform="translate(277.39 105.85) rotate(-90)" font-size="6.700" fill="#222" stroke="#222" stroke-width="0.16">RNA-Seq</text>
<line x1="308.2" y1="76.1" x2="308.2" y2="109.3" stroke="#000" stroke-width="1.2"/>
<line x1="305.59999999999997" y1="82.1" x2="308.2" y2="82.1" stroke="#111" stroke-width="1"/>
<text transform="translate(284.48 84.58)" font-size="6.200" fill="#222" stroke="#222" stroke-width="0.16">15000</text>
<line x1="305.59999999999997" y1="108" x2="308.2" y2="108" stroke="#111" stroke-width="1"/>
<text transform="translate(298.73 110.78)" font-size="6.200" fill="#222" stroke="#222" stroke-width="0.16">0</text>
<line x1="309.3" y1="108" x2="511" y2="108" stroke="#aaa" stroke-width="0.8"/>
<path d="M311 108 L311.00 106.50 L311.50 106.87 L312.00 105.80 L312.50 106.33 L313.00 106.61 L313.50 106.28 L314.00 106.20 L314.50 106.67 L315.00 106.93 L315.50 106.82 L316.00 106.60 L316.50 106.97 L317.00 106.65 L317.50 106.77 L318.00 105.90 L318.50 106.41 L319.00 106.86 L319.50 106.53 L320.00 106.40 L320.50 106.66 L321.00 106.72 L321.50 106.95 L322.00 106.80 L322.50 106.92 L323.00 106.87 L323.50 106.38 L324.00 106.20 L324.50 106.55 L325.00 106.74 L325.50 107.00 L325.5 108 Z" fill="#000"/>
<path d="M337 108 L337.00 107.00 L337.50 107.16 L338.00 106.20 L338.50 106.77 L339.00 106.53 L339.50 106.71 L340.00 106.80 L340.50 106.86 L341.00 106.70 L341.50 107.24 L342.00 106.50 L342.50 106.79 L343.00 107.27 L343.50 106.91 L344.00 107.34 L344.50 107.17 L345.00 107.20 L345 108 Z" fill="#000"/>
<path d="M357 108 L357.00 107.00 L357.50 106.86 L358.00 107.08 L358.50 106.92 L359.00 106.30 L359.50 106.64 L360.00 106.74 L360.50 106.50 L361.00 105.60 L361.50 105.76 L362.00 106.08 L362.50 105.99 L363.00 106.00 L363.50 106.35 L364.00 106.97 L364.50 106.86 L365.00 106.80 L365.50 107.37 L366.00 107.50 L366 108 Z" fill="#000"/>
<path d="M466.9 108 L466.90 91.20 L467.30 91.20 L467.70 92.03 L468.10 94.08 L468.50 93.00 L468.90 93.42 L469.30 93.62 L469.60 92.30 L469.70 92.80 L470.10 94.26 L470.50 93.44 L470.80 93.80 L470.90 94.33 L471.30 93.97 L471.70 92.45 L472.10 92.32 L472.30 90.80 L472.50 92.68 L472.90 91.91 L473.30 93.65 L473.70 92.54 L473.80 92.30 L474.10 93.38 L474.50 92.18 L474.90 91.03 L475.30 91.39 L475.40 90.40 L475.70 91.61 L476.10 92.96 L476.50 94.19 L476.90 93.00 L477.30 91.79 L477.70 87.86 L478.00 84.60 L478.10 86.61 L478.50 88.09 L478.90 88.89 L479.20 90.00 L479.30 91.44 L479.70 89.48 L480.10 86.58 L480.40 84.20 L480.50 87.89 L480.90 91.53 L481.30 94.50 L481.50 95.40 L481.70 95.08 L482.10 91.20 L482.50 88.11 L482.70 84.20 L482.90 84.92 L483.30 83.97 L483.70 84.25 L483.80 81.50 L484.10 82.43 L484.50 82.57 L484.90 83.35 L485.00 80.40 L485.30 81.26 L485.70 84.28 L486.10 85.36 L486.20 83.00 L486.50 85.08 L486.90 82.50 L487.30 80.40 L487.70 80.60 L488.10 81.39 L488.50 78.80 L488.90 84.38 L489.30 84.64 L489.60 85.40 L489.70 85.88 L490.10 83.74 L490.50 79.97 L490.80 76.50 L490.90 78.83 L491.30 77.96 L491.70 79.65 L491.90 79.20 L492.10 82.69 L492.50 82.44 L492.90 86.85 L493.00 84.60 L493.30 86.20 L493.70 86.92 L493.80 85.40 L494.10 90.60 L494.20 90.00 L494.2 108 Z" fill="#000"/>
<text transform="translate(278.6 142.63) rotate(-90)" font-size="6.850" fill="#222" stroke="#222" stroke-width="0.16">H3K4me3</text>
<line x1="308.2" y1="111.7" x2="308.2" y2="144" stroke="#000" stroke-width="1.2"/>
<line x1="305.59999999999997" y1="119.8" x2="308.2" y2="119.8" stroke="#111" stroke-width="1"/>
<text transform="translate(295.55 121.93)" font-size="6.200" fill="#222" stroke="#222" stroke-width="0.16">30</text>
<line x1="305.59999999999997" y1="143.2" x2="308.2" y2="143.2" stroke="#111" stroke-width="1"/>
<text transform="translate(299.28 145.33)" font-size="6.200" fill="#222" stroke="#222" stroke-width="0.16">0</text>
<line x1="309.3" y1="142.5" x2="511" y2="142.5" stroke="#c8cce0" stroke-width="0.6"/>
<rect x="311" y="142.05329665594255" width="0.9" height="0.6467033440574524" fill="#2e4a7e"/>
<rect x="312" y="141.47690221008708" width="0.9" height="1.223097789912926" fill="#2e4a7e"/>
<rect x="313" y="142.09011992446995" width="0.9" height="0.6098800755300496" fill="#2e4a7e"/>
<rect x="314" y="141.65926163401124" width="0.9" height="1.0407383659887306" fill="#2e4a7e"/>
<rect x="315" y="141.34726351381983" width="0.9" height="1.3527364861801752" fill="#2e4a7e"/>
<rect x="316" y="141.98618676416172" width="0.9" height="0.7138132358382836" fill="#2e4a7e"/>
<rect x="317" y="141.94038538623894" width="0.9" height="0.7596146137610559" fill="#2e4a7e"/>
<rect x="318" y="141.61353362415613" width="0.9" height="1.0864663758438449" fill="#2e4a7e"/>
<rect x="319" y="141.6944414279008" width="0.9" height="1.005558572099189" fill="#2e4a7e"/>
<rect x="320" y="141.58674402585478" width="0.9" height="1.1132559741452008" fill="#2e4a7e"/>
<rect x="321" y="141.44929535619505" width="0.9" height="1.2507046438049296" fill="#2e4a7e"/>
<rect x="322" y="141.96028842026843" width="0.9" height="0.7397115797315598" fill="#2e4a7e"/>
<rect x="323" y="141.85249400696893" width="0.9" height="0.8475059930310677" fill="#2e4a7e"/>
<rect x="324" y="141.85978706702014" width="0.9" height="0.8402129329798448" fill="#2e4a7e"/>
<rect x="325" y="142.061207377946" width="0.9" height="0.6387926220539888" fill="#2e4a7e"/>
<rect x="326" y="141.38851806089696" width="0.9" height="1.3114819391030434" fill="#2e4a7e"/>
<rect x="327" y="141.47362065626427" width="0.9" height="1.2263793437357262" fill="#2e4a7e"/>
<rect x="328" y="141.52768110908028" width="0.9" height="1.172318890919723" fill="#2e4a7e"/>
<rect x="329" y="142.09492047801518" width="0.9" height="0.605079521984808" fill="#2e4a7e"/>
<rect x="330" y="141.42445401885124" width="0.9" height="1.2755459811487642" fill="#2e4a7e"/>
<rect x="331" y="141.50385004334294" width="0.9" height="1.1961499566570502" fill="#2e4a7e"/>
<rect x="332" y="141.72778755974483" width="0.9" height="0.9722124402551564" fill="#2e4a7e"/>
<rect x="333" y="141.50659604277888" width="0.9" height="1.1934039572210984" fill="#2e4a7e"/>
<rect x="334" y="141.7380102087534" width="0.9" height="0.9619897912466031" fill="#2e4a7e"/>
<rect x="335" y="141.9192412674629" width="0.9" height="0.7807587325370936" fill="#2e4a7e"/>
<rect x="336" y="142.0157746478234" width="0.9" height="0.6842253521765871" fill="#2e4a7e"/>
<rect x="337" y="141.91416264984593" width="0.9" height="0.7858373501540408" fill="#2e4a7e"/>
<rect x="338" y="142.06894594953496" width="0.9" height="0.6310540504650266" fill="#2e4a7e"/>
<rect x="339" y="141.83158715432123" width="0.9" height="0.86841284567877" fill="#2e4a7e"/>
<rect x="340" y="141.50027675077212" width="0.9" height="1.1997232492278704" fill="#2e4a7e"/>
<rect x="341" y="141.54391261969297" width="0.9" height="1.1560873803070224" fill="#2e4a7e"/>
<rect x="342" y="141.42373331032218" width="0.9" height="1.2762666896778256" fill="#2e4a7e"/>
<rect x="343" y="141.53065261809508" width="0.9" height="1.1693473819049172" fill="#2e4a7e"/>
<rect x="344" y="141.8872098348387" width="0.9" height="0.8127901651612873" fill="#2e4a7e"/>
<rect x="345" y="141.65696979356267" width="0.9" height="1.0430302064373187" fill="#2e4a7e"/>
<rect x="346" y="141.75115782209792" width="0.9" height="0.9488421779020648" fill="#2e4a7e"/>
<rect x="347" y="141.4692399864359" width="0.9" height="1.230760013564081" fill="#2e4a7e"/>
<rect x="348" y="141.68140429275098" width="0.9" height="1.018595707248996" fill="#2e4a7e"/>
<rect x="349" y="141.88776300373306" width="0.9" height="0.8122369962669431" fill="#2e4a7e"/>
<rect x="350" y="141.58639745158808" width="0.9" height="1.1136025484119096" fill="#2e4a7e"/>
<rect x="351" y="141.32788735095156" width="0.9" height="1.3721126490484354" fill="#2e4a7e"/>
<rect x="352" y="141.92640357562647" width="0.9" height="0.7735964243735141" fill="#2e4a7e"/>
<rect x="353" y="141.3959638386522" width="0.9" height="1.3040361613477978" fill="#2e4a7e"/>
<rect x="354" y="142.08781783479589" width="0.9" height="0.6121821652041052" fill="#2e4a7e"/>
<rect x="355" y="141.89170507845458" width="0.9" height="0.8082949215454013" fill="#2e4a7e"/>
<rect x="356" y="141.91111256574555" width="0.9" height="0.7888874342544251" fill="#2e4a7e"/>
<rect x="357" y="141.50489706872239" width="0.9" height="1.195102931277611" fill="#2e4a7e"/>
<rect x="358" y="141.34424168372638" width="0.9" height="1.3557583162736075" fill="#2e4a7e"/>
<rect x="359" y="141.503078920156" width="0.9" height="1.1969210798439884" fill="#2e4a7e"/>
<rect x="360" y="141.8385028827671" width="0.9" height="0.8614971172329007" fill="#2e4a7e"/>
<rect x="361" y="141.39586816198403" width="0.9" height="1.3041318380159566" fill="#2e4a7e"/>
<rect x="362" y="141.8371570193694" width="0.9" height="0.8628429806305821" fill="#2e4a7e"/>
<rect x="363" y="141.9086657978329" width="0.9" height="0.7913342021670873" fill="#2e4a7e"/>
<rect x="364" y="141.37394528477233" width="0.9" height="1.326054715227651" fill="#2e4a7e"/>
<rect x="365" y="141.5954431657691" width="0.9" height="1.1045568342308871" fill="#2e4a7e"/>
<rect x="366" y="141.54572563182316" width="0.9" height="1.154274368176822" fill="#2e4a7e"/>
<rect x="367" y="141.56781101321266" width="0.9" height="1.1321889867873232" fill="#2e4a7e"/>
<rect x="368" y="141.31678927221085" width="0.9" height="1.3832107277891392" fill="#2e4a7e"/>
<rect x="369" y="141.72440564350998" width="0.9" height="0.9755943564900189" fill="#2e4a7e"/>
<rect x="370" y="141.42823098581658" width="0.9" height="1.2717690141833917" fill="#2e4a7e"/>
<rect x="371" y="141.54190543290147" width="0.9" height="1.1580945670985083" fill="#2e4a7e"/>
<rect x="373.9347739945374" y="141.7846009815343" width="0.9" height="1.3153990184656883" fill="#3a4868"/>
<rect x="375.1846505006665" y="141.84003666290891" width="0.9" height="1.2599633370910879" fill="#3a4868"/>
<rect x="376.8735732417643" y="142.10856929759353" width="0.9" height="0.9914307024064548" fill="#3a4868"/>
<rect x="378.5464738376657" y="142.32342816145456" width="0.9" height="0.7765718385454353" fill="#3a4868"/>
<rect x="379.51614152988145" y="141.92581722348731" width="0.9" height="1.1741827765126693" fill="#3a4868"/>
<rect x="381.55736930144644" y="142.4038172568923" width="0.9" height="0.696182743107706" fill="#3a4868"/>
<rect x="382.5851049529049" y="142.31420043187794" width="0.9" height="0.7857995681220539" fill="#3a4868"/>
<rect x="384.0249896636832" y="142.1504929071849" width="0.9" height="0.9495070928150766" fill="#3a4868"/>
<rect x="391.8542836804469" y="142.4694615549493" width="0.9" height="0.6305384450506833" fill="#3a4868"/>
<rect x="393.4905369756575" y="142.1408809872799" width="0.9" height="0.9591190127200995" fill="#3a4868"/>
<rect x="398.0206753615548" y="141.78809613367264" width="0.9" height="1.3119038663273694" fill="#3a4868"/>
<rect x="402.12343404830915" y="141.8759045839294" width="0.9" height="1.2240954160705726" fill="#3a4868"/>
<rect x="403.5206560937282" y="142.0495620959789" width="0.9" height="1.0504379040210927" fill="#3a4868"/>
<rect x="412.55992625415024" y="141.93086003537036" width="0.9" height="1.1691399646296496" fill="#3a4868"/>
<rect x="414.4544183387443" y="142.08304867729615" width="0.9" height="1.01695132270385" fill="#3a4868"/>
<rect x="415.69148332776064" y="142.37236872515462" width="0.9" height="0.7276312748453929" fill="#3a4868"/>
<rect x="417.0125510767888" y="141.95666209858345" width="0.9" height="1.1433379014165426" fill="#3a4868"/>
<rect x="418.6695559324998" y="142.13575796704765" width="0.9" height="0.9642420329523524" fill="#3a4868"/>
<rect x="421.69249691413" y="141.8331487907614" width="0.9" height="1.2668512092385873" fill="#3a4868"/>
<rect x="425.0108263952478" y="141.6827965008646" width="0.9" height="1.4172034991353912" fill="#3a4868"/>
<rect x="427.7477525623049" y="142.11297446764226" width="0.9" height="0.9870255323577353" fill="#3a4868"/>
<rect x="429.463815531574" y="141.98341976978864" width="0.9" height="1.1165802302113486" fill="#3a4868"/>
<rect x="430.9227956818705" y="141.82580994902193" width="0.9" height="1.274190050978072" fill="#3a4868"/>
<rect x="432.12994455418465" y="142.1209606769577" width="0.9" height="0.9790393230422898" fill="#3a4868"/>
<rect x="435.49188669154245" y="142.29429184421073" width="0.9" height="0.8057081557892722" fill="#3a4868"/>
<rect x="436.5007794343988" y="141.8500023678896" width="0.9" height="1.249997632110392" fill="#3a4868"/>
<rect x="438.4573086116486" y="141.70793048225457" width="0.9" height="1.3920695177454228" fill="#3a4868"/>
<rect x="441.2944937963591" y="141.80335648002085" width="0.9" height="1.2966435199791424" fill="#3a4868"/>
<rect x="442.97806313853863" y="141.86992932390135" width="0.9" height="1.2300706760986537" fill="#3a4868"/>
<rect x="444.29674899992" y="141.73280041139017" width="0.9" height="1.367199588609826" fill="#3a4868"/>
<rect x="445.9991015040061" y="141.88836312991862" width="0.9" height="1.2116368700813833" fill="#3a4868"/>
<rect x="447.5663219339798" y="141.92261506012235" width="0.9" height="1.1773849398776437" fill="#3a4868"/>
<rect x="448.6288286042435" y="142.09148757465724" width="0.9" height="1.0085124253427682" fill="#3a4868"/>
<rect x="451.5659539458396" y="142.2182871495647" width="0.9" height="0.8817128504352814" fill="#3a4868"/>
<rect x="454.9727484449347" y="141.93455075226288" width="0.9" height="1.165449247737118" fill="#3a4868"/>
<rect x="460.7407623407029" y="142.41191987093336" width="0.9" height="0.6880801290666296" fill="#3a4868"/>
<rect x="462.534244464689" y="142.12237763838354" width="0.9" height="0.9776223616164662" fill="#3a4868"/>
<rect x="464.03306927224634" y="141.79585975438266" width="0.9" height="1.3041402456173208" fill="#3a4868"/>
<rect x="465.12367006973835" y="141.85816457091738" width="0.9" height="1.241835429082602" fill="#3a4868"/>
<rect x="467.0407294104022" y="141.93334676592937" width="0.9" height="1.166653234070633" fill="#3a4868"/>
<rect x="468.22758308790213" y="142.27494510960207" width="0.9" height="0.825054890397916" fill="#3a4868"/>
<rect x="471.27654480692837" y="142.11877813909598" width="0.9" height="0.9812218609040173" fill="#3a4868"/>
<rect x="472.9526854083951" y="142.09032497392823" width="0.9" height="1.0096750260717537" fill="#3a4868"/>
<rect x="477.19599612290443" y="141.94058810194818" width="0.9" height="1.1594118980518262" fill="#3a4868"/>
<rect x="479.0058636432155" y="142.1315897973893" width="0.9" height="0.968410202610694" fill="#3a4868"/>
<rect x="483.2632788182306" y="141.89227949384605" width="0.9" height="1.2077205061539478" fill="#3a4868"/>
<rect x="486.0756342276963" y="141.6628223584168" width="0.9" height="1.437177641583186" fill="#3a4868"/>
<rect x="488.03107531382096" y="142.33524413179572" width="0.9" height="0.7647558682042731" fill="#3a4868"/>
<rect x="489.1149442759193" y="141.91095927137695" width="0.9" height="1.1890407286230342" fill="#3a4868"/>
<rect x="490.92189969789916" y="141.79963852010988" width="0.9" height="1.3003614798901149" fill="#3a4868"/>
<rect x="493.59359143216057" y="142.1501624163338" width="0.9" height="0.9498375836661777" fill="#3a4868"/>
<rect x="495.19593754382237" y="142.05914385231307" width="0.9" height="1.040856147686934" fill="#3a4868"/>
<rect x="496.59655461267926" y="141.62284239533736" width="0.9" height="1.477157604662642" fill="#3a4868"/>
<rect x="498.11356404688365" y="142.46566902379615" width="0.9" height="0.6343309762038349" fill="#3a4868"/>
<rect x="503.07743142690316" y="142.01097607690025" width="0.9" height="1.0890239230997363" fill="#3a4868"/>
<rect x="504.23053973682653" y="142.35524165075574" width="0.9" height="0.7447583492442553" fill="#3a4868"/>
<path d="M363.5 142.6 L363.50 142.00 L363.75 141.50 L364.00 141.00 L364.25 140.50 L364.50 140.00 L364.75 139.50 L365.00 139.00 L365.25 137.13 L365.50 135.25 L365.75 133.38 L365.80 133.00 L366.00 131.00 L366.25 128.50 L366.30 128.00 L366.50 130.00 L366.75 132.50 L366.80 133.00 L367.00 135.40 L367.25 138.40 L367.30 139.00 L367.50 139.86 L367.75 140.93 L368.00 142.00 L368 142.6 Z" fill="#2e4a7e"/>
<path d="M472 142.6 L472.00 141.50 L472.40 141.48 L472.70 141.00 L472.80 141.28 L473.20 141.46 L473.60 141.76 L474.00 141.80 L474.40 141.79 L474.80 141.62 L475.20 141.59 L475.60 141.51 L476.00 141.20 L476.40 141.14 L476.80 140.94 L477.20 140.95 L477.60 140.95 L478.00 140.50 L478.40 140.30 L478.80 139.96 L479.20 139.59 L479.40 138.70 L479.60 138.68 L480.00 138.27 L480.40 138.06 L480.80 137.86 L481.20 137.40 L481.30 136.80 L481.60 137.88 L482.00 137.33 L482.40 138.22 L482.80 138.19 L483.20 138.29 L483.30 138.20 L483.60 137.87 L484.00 137.60 L484.40 137.20 L484.70 135.80 L484.80 136.53 L485.20 137.51 L485.60 137.13 L486.00 138.11 L486.20 137.70 L486.40 137.06 L486.80 136.33 L487.20 134.75 L487.60 132.00 L488.00 133.57 L488.40 134.40 L488.80 135.07 L489.00 133.40 L489.20 133.30 L489.60 133.07 L490.00 132.05 L490.40 130.80 L490.80 127.60 L491.20 130.57 L491.60 131.32 L491.90 131.50 L492.00 132.61 L492.40 134.57 L492.80 135.03 L493.20 136.62 L493.40 137.20 L493.60 137.88 L494.00 136.19 L494.40 135.27 L494.80 134.30 L495.20 136.59 L495.60 136.59 L496.00 137.80 L496.30 138.20 L496.40 139.23 L496.80 139.87 L497.20 140.03 L497.60 140.92 L497.70 141.00 L498.00 139.33 L498.40 136.98 L498.80 134.44 L499.10 130.50 L499.20 132.92 L499.60 134.24 L500.00 137.32 L500.10 137.20 L500.40 138.25 L500.80 137.66 L501.20 137.98 L501.60 138.76 L502.00 138.20 L502.40 139.38 L502.80 140.13 L503.20 141.03 L503.50 141.60 L503.60 141.62 L504.00 141.62 L504.40 141.59 L504.80 141.70 L505.20 141.58 L505.40 141.50 L505.60 141.66 L506.00 141.73 L506.40 141.90 L506.80 141.95 L507.00 142.00 L507 142.6 Z" fill="#2e4a7e"/>
<text transform="translate(277.7 177.93) rotate(-90)" font-size="6.850" fill="#222" stroke="#222" stroke-width="0.16">H3K4me1</text>
<line x1="308.2" y1="146.7" x2="308.2" y2="179.8" stroke="#000" stroke-width="1.2"/>
<line x1="305.59999999999997" y1="154.2" x2="308.2" y2="154.2" stroke="#111" stroke-width="1"/>
<text transform="translate(295.55 157.43)" font-size="6.200" fill="#222" stroke="#222" stroke-width="0.16">30</text>
<line x1="305.59999999999997" y1="178.4" x2="308.2" y2="178.4" stroke="#111" stroke-width="1"/>
<text transform="translate(299.28 181.13)" font-size="6.200" fill="#222" stroke="#222" stroke-width="0.16">0</text>
<path d="M310 178.4 L310.00 177.00 L310.50 177.41 L311.00 177.37 L311.50 177.39 L312.00 177.06 L312.50 177.35 L313.00 176.50 L313.50 177.03 L314.00 176.42 L314.50 176.15 L315.00 175.84 L315.50 175.05 L316.00 174.50 L316.50 175.29 L317.00 176.27 L317.50 176.59 L318.00 176.70 L318.50 176.79 L319.00 177.13 L319.50 177.07 L320.00 176.60 L320.50 177.31 L321.00 176.50 L321.50 176.56 L322.00 177.00 L322.50 176.10 L323.00 175.75 L323.50 175.12 L324.00 175.82 L324.50 174.45 L325.00 175.06 L325.20 174.00 L325.50 175.35 L326.00 175.31 L326.50 176.97 L327.00 176.60 L327.50 176.63 L328.00 176.68 L328.50 175.80 L329.00 176.18 L329.50 175.78 L330.00 175.45 L330.50 174.75 L331.00 174.00 L331.50 175.62 L332.00 176.14 L332.50 176.50 L333.00 176.70 L333.50 177.22 L334.00 176.79 L334.50 177.10 L335.00 177.00 L335.50 177.17 L336.00 176.96 L336.50 176.55 L337.00 176.50 L337.50 176.66 L338.00 177.04 L338.50 177.03 L339.00 177.03 L339.50 176.75 L340.00 176.69 L340.50 176.53 L341.00 176.30 L341.50 176.14 L342.00 175.50 L342.50 175.58 L343.00 176.10 L343.50 175.31 L343.60 173.80 L344.00 176.06 L344.50 176.00 L345.00 175.20 L345.50 176.04 L346.00 176.00 L346.50 175.69 L347.00 174.97 L347.50 174.96 L348.00 174.46 L348.50 173.95 L348.80 172.70 L349.00 173.22 L349.50 172.88 L350.00 171.98 L350.50 173.07 L350.60 170.00 L351.00 171.99 L351.50 173.51 L352.00 173.00 L352.50 175.25 L353.00 175.12 L353.40 173.30 L353.50 175.52 L354.00 173.93 L354.50 173.73 L355.00 174.38 L355.50 175.08 L355.70 173.80 L356.00 173.96 L356.50 173.71 L357.00 173.93 L357.50 174.45 L358.00 172.10 L358.50 172.94 L359.00 172.53 L359.50 171.30 L360.00 169.48 L360.40 166.90 L360.50 167.07 L361.00 171.20 L361.50 165.00 L362.00 169.22 L362.40 160.00 L362.50 167.67 L363.00 165.00 L363.20 165.00 L363.50 169.90 L364.00 172.70 L364.50 175.15 L365.00 176.76 L365.20 176.00 L365.50 175.20 L366.00 172.05 L366.30 168.60 L366.50 168.50 L367.00 167.35 L367.50 166.30 L368.00 170.57 L368.50 172.93 L368.70 169.80 L369.00 172.71 L369.50 175.99 L369.80 176.50 L370.00 177.28 L370.50 177.52 L371.00 177.65 L371.50 177.43 L372.00 177.50 L372.50 177.51 L373.00 177.87 L373.50 177.55 L374.00 177.85 L374.50 177.90 L375.00 177.61 L375.50 177.81 L376.00 177.61 L376.50 177.83 L377.00 177.88 L377.50 177.59 L378.00 177.50 L378.50 176.86 L379.00 176.00 L379.50 176.95 L380.00 176.30 L380.50 176.15 L381.00 176.39 L381.50 175.77 L382.00 176.56 L382.50 175.61 L383.00 175.50 L383.50 176.84 L384.00 176.88 L384.50 176.17 L385.00 176.04 L385.50 176.95 L386.00 176.00 L386.50 175.88 L387.00 176.31 L387.50 174.83 L387.70 174.40 L388.00 175.24 L388.50 175.92 L389.00 175.19 L389.50 174.61 L390.00 174.76 L390.50 174.07 L390.60 173.30 L391.00 175.46 L391.50 174.44 L392.00 175.58 L392.50 175.43 L393.00 175.79 L393.40 175.60 L393.50 176.35 L394.00 176.46 L394.50 176.06 L395.00 175.97 L395.50 176.24 L396.00 176.56 L396.50 176.90 L397.00 177.19 L397.50 176.43 L398.00 176.50 L398.50 176.45 L399.00 176.77 L399.50 176.31 L400.00 175.67 L400.50 175.65 L401.00 175.79 L401.50 175.00 L402.00 175.87 L402.50 175.17 L403.00 175.95 L403.50 175.48 L404.00 175.61 L404.50 175.16 L405.00 175.00 L405.50 176.27 L406.00 176.80 L406.50 176.63 L407.00 176.00 L407.50 176.20 L408.00 175.63 L408.50 175.25 L409.00 176.33 L409.50 174.76 L409.60 174.40 L410.00 174.91 L410.50 175.03 L411.00 175.69 L411.50 176.29 L412.00 175.50 L412.50 175.86 L413.00 176.11 L413.50 175.94 L414.00 176.67 L414.20 176.00 L414.50 176.96 L415.00 176.39 L415.50 176.05 L416.00 176.70 L416.50 175.98 L417.00 175.69 L417.50 176.52 L417.70 175.50 L418.00 176.20 L418.50 176.45 L419.00 176.50 L419.50 176.80 L420.00 176.36 L420.50 175.15 L421.00 174.55 L421.30 173.80 L421.50 175.03 L422.00 176.00 L422.50 175.03 L423.00 175.43 L423.50 176.48 L424.00 176.33 L424.20 176.00 L424.50 175.32 L425.00 174.02 L425.50 173.68 L426.00 171.00 L426.50 171.38 L427.00 172.17 L427.50 171.39 L427.70 166.90 L428.00 170.85 L428.50 167.38 L428.80 165.20 L429.00 169.32 L429.50 169.10 L430.00 168.00 L430.50 169.48 L431.00 170.75 L431.40 165.20 L431.50 171.10 L432.00 167.53 L432.50 171.97 L432.90 171.00 L433.00 174.15 L433.50 173.70 L434.00 174.63 L434.50 176.73 L434.60 176.00 L435.00 176.44 L435.50 176.71 L436.00 176.00 L436.50 176.76 L437.00 176.45 L437.50 174.45 L438.00 174.18 L438.10 173.80 L438.50 174.44 L439.00 173.70 L439.50 174.04 L440.00 171.90 L440.50 172.53 L441.00 169.80 L441.50 171.62 L442.00 172.39 L442.50 172.98 L442.70 173.30 L443.00 175.33 L443.50 176.24 L444.00 176.47 L444.50 177.01 L445.00 177.00 L445.50 177.38 L446.00 176.67 L446.50 176.00 L447.00 176.18 L447.50 175.17 L448.00 174.86 L448.40 174.40 L448.50 176.15 L449.00 175.66 L449.50 176.35 L450.00 177.03 L450.50 176.71 L450.80 177.00 L451.00 177.18 L451.50 176.08 L452.00 175.08 L452.50 173.48 L453.00 173.22 L453.10 172.10 L453.50 173.63 L454.00 173.23 L454.50 173.92 L454.80 171.00 L455.00 169.97 L455.50 166.98 L456.00 169.07 L456.30 162.30 L456.50 170.21 L457.00 171.59 L457.40 171.50 L457.50 173.51 L458.00 171.80 L458.50 171.80 L458.80 171.50 L459.00 172.47 L459.50 175.46 L460.00 174.87 L460.50 176.10 L460.60 176.00 L461.00 175.04 L461.50 172.44 L462.00 173.80 L462.30 169.20 L462.50 172.49 L463.00 168.97 L463.50 167.12 L464.00 165.80 L464.50 170.58 L465.00 170.04 L465.50 170.32 L465.70 169.80 L466.00 173.08 L466.50 171.86 L467.00 171.81 L467.50 168.00 L468.00 169.00 L468.50 169.56 L469.00 167.89 L469.30 161.30 L469.50 168.50 L470.00 166.71 L470.30 166.20 L470.50 171.12 L471.00 165.00 L471.50 167.17 L471.70 159.90 L472.00 168.74 L472.50 164.22 L473.00 170.44 L473.20 167.10 L473.50 167.44 L474.00 167.78 L474.50 167.67 L474.60 167.10 L475.00 170.85 L475.50 168.20 L476.00 169.59 L476.30 162.80 L476.50 164.14 L477.00 166.73 L477.50 168.00 L478.00 171.24 L478.50 172.35 L479.00 171.30 L479.40 171.40 L479.50 173.11 L480.00 172.98 L480.50 174.66 L481.00 174.71 L481.50 175.37 L482.00 174.18 L482.30 173.80 L482.50 174.72 L483.00 175.57 L483.50 174.07 L484.00 175.32 L484.50 175.02 L485.00 175.55 L485.20 173.80 L485.50 175.45 L486.00 174.64 L486.50 175.81 L487.00 176.30 L487.50 176.08 L488.00 176.55 L488.10 175.80 L488.50 175.51 L489.00 176.27 L489.50 174.37 L490.00 173.80 L490.50 174.46 L491.00 175.28 L491.50 176.33 L492.00 176.31 L492.50 176.86 L492.90 176.50 L493.00 177.13 L493.50 177.18 L494.00 177.04 L494.50 176.51 L494.60 176.50 L495.00 171.99 L495.30 168.60 L495.50 171.11 L496.00 176.50 L496.50 177.39 L497.00 177.38 L497.20 177.50 L497.50 177.11 L498.00 174.47 L498.50 173.82 L499.00 169.53 L499.10 169.00 L499.50 172.21 L500.00 166.31 L500.50 167.59 L501.00 160.90 L501.50 169.37 L502.00 164.25 L502.50 164.20 L503.00 168.29 L503.50 165.18 L504.00 159.68 L504.40 157.50 L504.50 165.35 L505.00 165.26 L505.40 165.20 L505.50 170.51 L506.00 171.25 L506.30 168.00 L506.50 169.77 L507.00 171.71 L507.50 174.72 L507.80 173.80 L508.00 174.74 L508.50 172.30 L509.00 166.49 L509.20 162.30 L509.50 166.40 L510.00 168.58 L510.20 164.20 L510.50 172.60 L511.00 178.00 L511 178.4 Z" fill="#7e7e7e"/>
<path d="M78.6 270.4 L125.90 270.40 A47.3 47.3 0 0 1 119.97 293.33 Z" fill="#2e4a7e" stroke="#000" stroke-width="1.25" stroke-linejoin="round"/>
<path d="M78.6 270.4 L119.97 293.33 A47.3 47.3 0 0 1 42.63 301.12 Z" fill="#8c8c8c" stroke="#000" stroke-width="1.25" stroke-linejoin="round"/>
<path d="M78.6 270.4 L42.63 301.12 A47.3 47.3 0 0 1 40.92 299.00 Z" fill="#000" stroke="#000" stroke-width="1.25" stroke-linejoin="round"/>
<path d="M78.6 270.4 L40.92 299.00 A47.3 47.3 0 1 1 125.90 270.40 Z" fill="#fff" stroke="#000" stroke-width="1.25" stroke-linejoin="round"/>
<line x1="43.8" y1="302.3" x2="35.1" y2="313.5" stroke="#000" stroke-width="1.2"/>
<text transform="translate(11.13 225.64)" font-size="7.900" fill="#222" stroke="#222" stroke-width="0.24">Unassigned</text>
<text transform="translate(128.46 282.6)" font-size="7.900" fill="#222" stroke="#222" stroke-width="0.24">pRNA</text>
<text transform="translate(108.11 317.23)" font-size="7.900" fill="#222" stroke="#222" stroke-width="0.24">eRNA</text>
<text transform="translate(17.38 323.82)" font-size="7.900" fill="#222" stroke="#222" stroke-width="0.24">Conflicted</text>
<line x1="200.7" y1="214.5" x2="200.7" y2="327.7" stroke="#111" stroke-width="1.1"/>
<line x1="200.1" y1="327.7" x2="283.7" y2="327.7" stroke="#111" stroke-width="1.1"/>
<text transform="translate(185.34 222.0)" font-size="8.000" fill="#222" stroke="#222" stroke-width="0.24">1.0</text>
<text transform="translate(185.34 272.4)" font-size="8.000" fill="#222" stroke="#222" stroke-width="0.24">0.5</text>
<text transform="translate(191.93 322.6)" font-size="8.000" fill="#222" stroke="#222" stroke-width="0.24">0</text>
<rect x="206.4" y="219.2" width="36.4" height="47.1" fill="#2e4a7e"/>
<rect x="206.4" y="266.3" width="36.4" height="56.4" fill="#a5032e"/>
<rect x="247.3" y="219.2" width="35.9" height="52.4" fill="#2e4a7e"/>
<rect x="247.3" y="271.6" width="35.9" height="51.1" fill="#a5032e"/>
<text transform="translate(213.33 338.41)" font-size="8.300" fill="#222" stroke="#222" stroke-width="0.24">eRNA</text>
<text transform="translate(253.83 338.49)" font-size="8.300" fill="#222" stroke="#222" stroke-width="0.24">pRNA</text>
<text transform="translate(176.11 297.11) rotate(-90)" font-size="9.300" fill="#222" stroke="#222" stroke-width="0.24">Proportion</text>
<rect x="217" y="345.4" width="8.9" height="9.1" fill="#a5032e"/>
<rect x="217" y="357.3" width="8.9" height="9.3" fill="#2e4a7e"/>
<text transform="translate(230.77 353.54)" font-size="7.950" fill="#222" stroke="#222" stroke-width="0.24">multi-exon</text>
<text transform="translate(229.17 364.66)" font-size="7.950" fill="#222" stroke="#222" stroke-width="0.24">single-exon</text>
<path d="M330.40 231.06 C331.29 231.02,334.20 231.08,335.76 230.80 C337.32 230.51,338.44 229.87,339.78 229.34 C341.12 228.82,343.13 227.91,343.80 227.63 " fill="none" stroke="#861c3e" stroke-width="1.05"/>
<rect x="329.8" y="223.2" width="14.6" height="14.4" fill="none" stroke="#3c3c3c" stroke-width="1.1"/>
<path d="M330.40 254.01 C331.07 253.13,333.08 250.05,334.42 248.73 C335.76 247.41,336.88 246.93,338.44 246.09 C340.00 245.25,342.91 244.11,343.80 243.71 " fill="none" stroke="#861c3e" stroke-width="1.05"/>
<rect x="329.8" y="240.87" width="14.6" height="14.4" fill="none" stroke="#3c3c3c" stroke-width="1.1"/>
<path d="M348.45 252.69 C349.12 252.40,351.13 251.63,352.47 250.97 C353.81 250.31,354.93 249.87,356.49 248.73 C358.05 247.59,360.96 244.88,361.85 244.11 " fill="none" stroke="#861c3e" stroke-width="1.05"/>
<rect x="347.85" y="240.87" width="14.6" height="14.4" fill="none" stroke="#3c3c3c" stroke-width="1.1"/>
<path d="M330.40 271.68 C331.07 270.80,333.08 267.61,334.42 266.40 C335.76 265.19,336.88 265.19,338.44 264.42 C340.00 263.65,342.91 262.22,343.80 261.78 " fill="none" stroke="#861c3e" stroke-width="1.05"/>
<rect x="329.8" y="258.53999999999996" width="14.6" height="14.4" fill="none" stroke="#3c3c3c" stroke-width="1.1"/>
<path d="M348.45 270.36 C349.12 269.81,351.13 267.83,352.47 267.06 C353.81 266.29,354.93 266.29,356.49 265.74 C358.05 265.19,360.96 264.09,361.85 263.76 " fill="none" stroke="#861c3e" stroke-width="1.05"/>
<rect x="347.85" y="258.53999999999996" width="14.6" height="14.4" fill="none" stroke="#3c3c3c" stroke-width="1.1"/>
<path d="M366.50 271.68 C367.62 270.73,370.97 267.87,373.20 266.00 C375.43 264.13,378.78 261.38,379.90 260.46 " fill="none" stroke="#861c3e" stroke-width="1.05"/>
<rect x="365.90000000000003" y="258.53999999999996" width="14.6" height="14.4" fill="none" stroke="#3c3c3c" stroke-width="1.1"/>
<path d="M330.40 285.39 C331.29 285.17,333.53 284.84,335.76 284.07 C337.99 283.30,342.46 281.32,343.80 280.77 " fill="none" stroke="#861c3e" stroke-width="1.05"/>
<rect x="329.8" y="276.21" width="14.6" height="14.4" fill="none" stroke="#3c3c3c" stroke-width="1.1"/>
<path d="M348.45 289.35 C349.57 288.36,352.92 285.28,355.15 283.41 C357.38 281.54,360.73 279.01,361.85 278.13 " fill="none" stroke="#861c3e" stroke-width="1.05"/>
<rect x="347.85" y="276.21" width="14.6" height="14.4" fill="none" stroke="#3c3c3c" stroke-width="1.1"/>
<path d="M366.50 286.71 C367.62 286.27,370.97 285.39,373.20 284.07 C375.43 282.75,378.78 279.67,379.90 278.79 " fill="none" stroke="#861c3e" stroke-width="1.05"/>
<rect x="365.90000000000003" y="276.21" width="14.6" height="14.4" fill="none" stroke="#3c3c3c" stroke-width="1.1"/>
<path d="M384.55 286.71 C385.67 286.16,389.02 284.62,391.25 283.41 C393.48 282.20,396.83 280.11,397.95 279.45 " fill="none" stroke="#861c3e" stroke-width="1.05"/>
<rect x="383.95000000000005" y="276.21" width="14.6" height="14.4" fill="none" stroke="#3c3c3c" stroke-width="1.1"/>
<path d="M330.40 301.08 C331.29 301.19,334.31 301.78,335.76 301.74 C337.21 301.70,337.77 301.37,339.11 300.82 C340.45 300.27,343.02 298.84,343.80 298.44 " fill="none" stroke="#861c3e" stroke-width="1.05"/>
<rect x="329.8" y="293.88" width="14.6" height="14.4" fill="none" stroke="#3c3c3c" stroke-width="1.1"/>
<path d="M348.45 307.02 C349.57 306.03,352.92 302.95,355.15 301.08 C357.38 299.21,360.73 296.68,361.85 295.80 " fill="none" stroke="#861c3e" stroke-width="1.05"/>
<rect x="347.85" y="293.88" width="14.6" height="14.4" fill="none" stroke="#3c3c3c" stroke-width="1.1"/>
<path d="M366.50 302.40 C367.28 302.40,369.85 302.73,371.19 302.40 C372.53 302.07,373.09 301.30,374.54 300.42 C375.99 299.54,379.01 297.67,379.90 297.12 " fill="none" stroke="#861c3e" stroke-width="1.05"/>
<rect x="365.90000000000003" y="293.88" width="14.6" height="14.4" fill="none" stroke="#3c3c3c" stroke-width="1.1"/>
<path d="M384.55 302.40 C385.33 302.40,388.01 302.73,389.24 302.40 C390.47 302.07,390.47 301.19,391.92 300.42 C393.37 299.65,396.95 298.22,397.95 297.78 " fill="none" stroke="#861c3e" stroke-width="1.05"/>
<rect x="383.95000000000005" y="293.88" width="14.6" height="14.4" fill="none" stroke="#3c3c3c" stroke-width="1.1"/>
<path d="M402.60 307.02 C403.72 306.14,407.07 303.72,409.30 301.74 C411.53 299.76,414.88 296.24,416.00 295.14 " fill="none" stroke="#861c3e" stroke-width="1.05"/>
<rect x="402.0" y="293.88" width="14.6" height="14.4" fill="none" stroke="#3c3c3c" stroke-width="1.1"/>
<path d="M330.40 324.69 C331.07 323.70,333.08 320.07,334.42 318.75 C335.76 317.43,336.88 317.32,338.44 316.77 C340.00 316.22,342.91 315.67,343.80 315.45 " fill="none" stroke="#861c3e" stroke-width="1.05"/>
<rect x="329.8" y="311.55" width="14.6" height="14.4" fill="none" stroke="#3c3c3c" stroke-width="1.1"/>
<path d="M348.45 320.07 C349.12 319.85,351.13 319.08,352.47 318.75 C353.81 318.42,354.93 318.31,356.49 318.09 C358.05 317.87,360.96 317.54,361.85 317.43 " fill="none" stroke="#861c3e" stroke-width="1.05"/>
<rect x="347.85" y="311.55" width="14.6" height="14.4" fill="none" stroke="#3c3c3c" stroke-width="1.1"/>
<path d="M366.50 324.03 C367.39 323.15,369.63 320.40,371.86 318.75 C374.09 317.10,378.56 314.90,379.90 314.13 " fill="none" stroke="#861c3e" stroke-width="1.05"/>
<rect x="365.90000000000003" y="311.55" width="14.6" height="14.4" fill="none" stroke="#3c3c3c" stroke-width="1.1"/>
<path d="M384.55 324.03 C385.67 323.15,389.02 320.51,391.25 318.75 C393.48 316.99,396.83 314.35,397.95 313.47 " fill="none" stroke="#861c3e" stroke-width="1.05"/>
<rect x="383.95000000000005" y="311.55" width="14.6" height="14.4" fill="none" stroke="#3c3c3c" stroke-width="1.1"/>
<path d="M402.60 320.73 C403.27 320.40,405.06 319.30,406.62 318.75 C408.18 318.20,410.42 317.87,411.98 317.43 C413.54 316.99,415.33 316.33,416.00 316.11 " fill="none" stroke="#861c3e" stroke-width="1.05"/>
<rect x="402.0" y="311.55" width="14.6" height="14.4" fill="none" stroke="#3c3c3c" stroke-width="1.1"/>
<path d="M420.65 318.75 C421.77 318.71,425.12 318.82,427.35 318.49 C429.58 318.16,432.93 317.06,434.05 316.77 " fill="none" stroke="#861c3e" stroke-width="1.05"/>
<rect x="420.05" y="311.55" width="14.6" height="14.4" fill="none" stroke="#3c3c3c" stroke-width="1.1"/>
<path d="M330.40 338.40 C331.29 338.18,333.53 337.74,335.76 337.08 C337.99 336.42,342.46 334.88,343.80 334.44 " fill="none" stroke="#861c3e" stroke-width="1.05"/>
<rect x="329.8" y="329.22" width="14.6" height="14.4" fill="none" stroke="#3c3c3c" stroke-width="1.1"/>
<path d="M348.45 342.36 C349.57 341.37,352.92 338.29,355.15 336.42 C357.38 334.55,360.73 332.02,361.85 331.14 " fill="none" stroke="#861c3e" stroke-width="1.05"/>
<rect x="347.85" y="329.22" width="14.6" height="14.4" fill="none" stroke="#3c3c3c" stroke-width="1.1"/>
<path d="M366.50 339.72 C367.62 339.28,370.97 338.18,373.20 337.08 C375.43 335.98,378.78 333.78,379.90 333.12 " fill="none" stroke="#861c3e" stroke-width="1.05"/>
<rect x="365.90000000000003" y="329.22" width="14.6" height="14.4" fill="none" stroke="#3c3c3c" stroke-width="1.1"/>
<path d="M384.55 340.38 C385.67 339.94,389.02 338.84,391.25 337.74 C393.48 336.64,396.83 334.44,397.95 333.78 " fill="none" stroke="#861c3e" stroke-width="1.05"/>
<rect x="383.95000000000005" y="329.22" width="14.6" height="14.4" fill="none" stroke="#3c3c3c" stroke-width="1.1"/>
<path d="M402.60 342.36 C403.72 341.37,407.07 338.40,409.30 336.42 C411.53 334.44,414.88 331.47,416.00 330.48 " fill="none" stroke="#861c3e" stroke-width="1.05"/>
<rect x="402.0" y="329.22" width="14.6" height="14.4" fill="none" stroke="#3c3c3c" stroke-width="1.1"/>
<path d="M420.65 341.70 C421.77 340.82,425.12 338.29,427.35 336.42 C429.58 334.55,432.93 331.47,434.05 330.48 " fill="none" stroke="#861c3e" stroke-width="1.05"/>
<rect x="420.05" y="329.22" width="14.6" height="14.4" fill="none" stroke="#3c3c3c" stroke-width="1.1"/>
<path d="M438.70 337.08 C439.37 336.86,441.60 335.87,442.72 335.76 C443.84 335.65,444.51 336.53,445.40 336.42 C446.29 336.31,446.96 335.76,448.08 335.10 C449.20 334.44,451.43 332.90,452.10 332.46 " fill="none" stroke="#861c3e" stroke-width="1.05"/>
<rect x="438.1" y="329.22" width="14.6" height="14.4" fill="none" stroke="#3c3c3c" stroke-width="1.1"/>
<text transform="translate(328.83 218.5)" font-size="8.000" fill="#222" stroke="#222" stroke-width="0.24">PRO</text>
<text transform="translate(347.28 233.55)" font-size="8.000" fill="#222" stroke="#222" stroke-width="0.24">PRE</text>
<text transform="translate(365.92 250.25)" font-size="8.000" fill="#222" stroke="#222" stroke-width="0.24">IMM</text>
<text transform="translate(383.85 268.35)" font-size="8.000" fill="#222" stroke="#222" stroke-width="0.24">MAT</text>
<text transform="translate(404.15 287.55)" font-size="8.000" fill="#222" stroke="#222" stroke-width="0.24">FO</text>
<text transform="translate(421.42 305.45)" font-size="8.000" fill="#222" stroke="#222" stroke-width="0.24">MZ</text>
<text transform="translate(437.94 322.65)" font-size="8.000" fill="#222" stroke="#222" stroke-width="0.24">B1A</text>
<text transform="translate(455.4 338.75)" font-size="8.000" fill="#222" stroke="#222" stroke-width="0.24">GC</text>
<text transform="translate(333.53 355.55)" font-size="8.950" fill="#222" stroke="#222" stroke-width="0.24">Ranked H3K4me1:H3K4me3</text>
<text transform="translate(367.56 367.27)" font-size="8.950" fill="#222" stroke="#222" stroke-width="0.24">fold-change</text>
<text transform="translate(314.42 336.36) rotate(-90)" font-size="8.600" fill="#222" stroke="#222" stroke-width="0.24">Ranked H3K4me1:H3K4me3</text>
<text transform="translate(326.08 303.38) rotate(-90)" font-size="8.600" fill="#222" stroke="#222" stroke-width="0.24">fold-change</text>
<line x1="53.5" y1="406.8" x2="53.5" y2="532" stroke="#1a1a1a" stroke-width="1.2"/>
<line x1="53" y1="531.5" x2="146.3" y2="531.5" stroke="#1a1a1a" stroke-width="1.2"/>
<text transform="translate(38.46 416.44)" font-size="8.400" fill="#222" stroke="#222" stroke-width="0.24">1.0</text>
<text transform="translate(45.12 474.49)" font-size="8.400" fill="#222" stroke="#222" stroke-width="0.24">0</text>
<text transform="translate(35.47 532.29)" font-size="8.400" fill="#222" stroke="#222" stroke-width="0.24">-1.0</text>
<line x1="79" y1="413" x2="79" y2="424" stroke="#4a4a4a" stroke-width="1.8"/>
<line x1="79" y1="450.6" x2="79" y2="490" stroke="#4a4a4a" stroke-width="1.8"/>
<rect x="78.15" y="491.54999999999995" width="1.7" height="1.7" fill="#333"/>
<rect x="78.15" y="494.34999999999997" width="1.7" height="1.7" fill="#333"/>
<rect x="78.15" y="498.04999999999995" width="1.7" height="1.7" fill="#333"/>
<rect x="78.15" y="500.54999999999995" width="1.7" height="1.7" fill="#333"/>
<rect x="78.15" y="503.45" width="1.7" height="1.7" fill="#333"/>
<rect x="78.15" y="506.65" width="1.7" height="1.7" fill="#333"/>
<rect x="78.15" y="515.15" width="1.7" height="1.7" fill="#333"/>
<rect x="78.15" y="525.15" width="1.7" height="1.7" fill="#333"/>
<path d="M63.4 423.8 L94.5 423.8 L94.5 431.6 L86.85000000000001 433.5 L94.5 435.6 L94.5 450.6 L63.4 450.6 L63.4 435.6 L71.05 433.5 L63.4 431.6 Z" fill="#8c8c8c"/>
<line x1="71.05" y1="433.5" x2="86.85000000000001" y2="433.5" stroke="#000" stroke-width="1.4"/>
<line x1="121" y1="414.5" x2="121" y2="428.8" stroke="#4a4a4a" stroke-width="1.8"/>
<line x1="121" y1="463.1" x2="121" y2="508.2" stroke="#4a4a4a" stroke-width="1.8"/>
<path d="M105.7 428.8 L136.8 428.8 L136.8 435.6 L129.15 441.5 L136.8 445.6 L136.8 463.1 L105.7 463.1 L105.7 445.6 L113.35 441.5 L105.7 435.6 Z" fill="#2e4a7e"/>
<line x1="113.35" y1="441.5" x2="129.15" y2="441.5" stroke="#000" stroke-width="1.4"/>
<line x1="80.3" y1="406.5" x2="119.7" y2="406.5" stroke="#111" stroke-width="1.2"/>
<line x1="95.70" y1="399.65" x2="95.70" y2="402.15" stroke="#111" stroke-width="0.75"/>
<line x1="94.62" y1="400.27" x2="96.78" y2="401.52" stroke="#111" stroke-width="0.75"/>
<line x1="96.78" y1="400.27" x2="94.62" y2="401.52" stroke="#111" stroke-width="0.75"/>
<line x1="99.80" y1="399.65" x2="99.80" y2="402.15" stroke="#111" stroke-width="0.75"/>
<line x1="98.72" y1="400.27" x2="100.88" y2="401.52" stroke="#111" stroke-width="0.75"/>
<line x1="100.88" y1="400.27" x2="98.72" y2="401.52" stroke="#111" stroke-width="0.75"/>
<line x1="103.90" y1="399.65" x2="103.90" y2="402.15" stroke="#111" stroke-width="0.75"/>
<line x1="102.82" y1="400.27" x2="104.98" y2="401.52" stroke="#111" stroke-width="0.75"/>
<line x1="104.98" y1="400.27" x2="102.82" y2="401.52" stroke="#111" stroke-width="0.75"/>
<text transform="translate(67.6 541.75)" font-size="8.400" fill="#222" stroke="#222" stroke-width="0.24">eRNA</text>
<text transform="translate(109.45 541.52)" font-size="8.400" fill="#222" stroke="#222" stroke-width="0.24">pRNA</text>
<text transform="translate(14.75 512.31) rotate(-90)" font-size="9.100" fill="#222" stroke="#222" stroke-width="0.24">Pearson’s Correlation</text>
<text transform="translate(29.08 497.53) rotate(-90)" font-size="9.200" fill="#222" stroke="#222" stroke-width="0.24">coefficient (<tspan font-style="italic">ρ</tspan>)</text>
<line x1="203.5" y1="406.8" x2="203.5" y2="532" stroke="#1a1a1a" stroke-width="1.2"/>
<line x1="203" y1="531.5" x2="292.4" y2="531.5" stroke="#1a1a1a" stroke-width="1.2"/>
<text transform="translate(189.98 416.85)" font-size="8.400" fill="#222" stroke="#222" stroke-width="0.24">15</text>
<text transform="translate(189.98 451.09)" font-size="8.400" fill="#222" stroke="#222" stroke-width="0.24">10</text>
<text transform="translate(194.37 486.25)" font-size="8.400" fill="#222" stroke="#222" stroke-width="0.24">5</text>
<text transform="translate(194.37 520.69)" font-size="8.400" fill="#222" stroke="#222" stroke-width="0.24">0</text>
<line x1="228" y1="450.8" x2="228" y2="484.3" stroke="#4a4a4a" stroke-width="1.8"/>
<line x1="228" y1="507.6" x2="228" y2="525.4" stroke="#4a4a4a" stroke-width="1.8"/>
<rect x="227.15" y="435.25" width="1.7" height="1.7" fill="#333"/>
<rect x="227.15" y="436.95" width="1.7" height="1.7" fill="#333"/>
<rect x="227.15" y="442.15" width="1.7" height="1.7" fill="#333"/>
<rect x="227.15" y="444.54999999999995" width="1.7" height="1.7" fill="#333"/>
<rect x="227.15" y="447.95" width="1.7" height="1.7" fill="#333"/>
<path d="M212.3 484.3 L242.8 484.3 L242.8 496.9 L235.15 498.6 L242.8 500.3 L242.8 507.5 L212.3 507.5 L212.3 500.3 L219.95000000000002 498.6 L212.3 496.9 Z" fill="#8c8c8c"/>
<line x1="219.95000000000002" y1="498.6" x2="235.15" y2="498.6" stroke="#000" stroke-width="1.4"/>
<line x1="268" y1="433.7" x2="268" y2="468.8" stroke="#4a4a4a" stroke-width="1.8"/>
<line x1="268" y1="495.9" x2="268" y2="514.5" stroke="#4a4a4a" stroke-width="1.8"/>
<rect x="267.15" y="411.95" width="1.7" height="1.7" fill="#333"/>
<rect x="267.15" y="415.15" width="1.7" height="1.7" fill="#333"/>
<path d="M252.7 468.9 L283.2 468.9 L283.2 482 L275.65 486.7 L283.2 489.8 L283.2 495.9 L252.7 495.9 L252.7 489.8 L260.25 486.7 L252.7 482 Z" fill="#2e4a7e"/>
<line x1="260.25" y1="486.7" x2="275.65" y2="486.7" stroke="#000" stroke-width="1.4"/>
<line x1="228.8" y1="406.5" x2="267.8" y2="406.5" stroke="#111" stroke-width="1.2"/>
<line x1="243.80" y1="399.65" x2="243.80" y2="402.15" stroke="#111" stroke-width="0.75"/>
<line x1="242.72" y1="400.27" x2="244.88" y2="401.52" stroke="#111" stroke-width="0.75"/>
<line x1="244.88" y1="400.27" x2="242.72" y2="401.52" stroke="#111" stroke-width="0.75"/>
<line x1="247.90" y1="399.65" x2="247.90" y2="402.15" stroke="#111" stroke-width="0.75"/>
<line x1="246.82" y1="400.27" x2="248.98" y2="401.52" stroke="#111" stroke-width="0.75"/>
<line x1="248.98" y1="400.27" x2="246.82" y2="401.52" stroke="#111" stroke-width="0.75"/>
<line x1="252.00" y1="399.65" x2="252.00" y2="402.15" stroke="#111" stroke-width="0.75"/>
<line x1="250.92" y1="400.27" x2="253.08" y2="401.52" stroke="#111" stroke-width="0.75"/>
<line x1="253.08" y1="400.27" x2="250.92" y2="401.52" stroke="#111" stroke-width="0.75"/>
<text transform="translate(216.45 540.95)" font-size="8.400" fill="#222" stroke="#222" stroke-width="0.24">eRNA</text>
<text transform="translate(257.3 540.52)" font-size="8.400" fill="#222" stroke="#222" stroke-width="0.24">pRNA</text>
<text transform="translate(171.13 494.1) rotate(-90)" font-size="9.400" fill="#222" stroke="#222" stroke-width="0.24">Expression</text>
<text transform="translate(182.09 504.16) rotate(-90)" font-size="9.250" fill="#222" stroke="#222" stroke-width="0.24">rlog(read counts)</text>
<line x1="342.5" y1="406.8" x2="342.5" y2="532" stroke="#1a1a1a" stroke-width="1.2"/>
<line x1="342" y1="531.5" x2="429.6" y2="531.5" stroke="#1a1a1a" stroke-width="1.2"/>
<text transform="translate(327.66 413.39)" font-size="8.400" fill="#222" stroke="#222" stroke-width="0.24">0.6</text>
<text transform="translate(327.66 452.19)" font-size="8.400" fill="#222" stroke="#222" stroke-width="0.24">0.4</text>
<text transform="translate(327.46 491.69)" font-size="8.400" fill="#222" stroke="#222" stroke-width="0.24">0.2</text>
<text transform="translate(334.42 530.29)" font-size="8.400" fill="#222" stroke="#222" stroke-width="0.24">0</text>
<line x1="366" y1="455" x2="366" y2="487.7" stroke="#4a4a4a" stroke-width="1.8"/>
<line x1="366" y1="508.9" x2="366" y2="525.1" stroke="#4a4a4a" stroke-width="1.8"/>
<rect x="365.25" y="411.45" width="1.5" height="1.5" fill="#333"/>
<rect x="365.25" y="415.55" width="1.5" height="1.5" fill="#333"/>
<rect x="365.25" y="417.45" width="1.5" height="1.5" fill="#333"/>
<rect x="365.25" y="429.65" width="1.5" height="1.5" fill="#333"/>
<rect x="365.25" y="432.75" width="1.5" height="1.5" fill="#333"/>
<rect x="365.25" y="436.05" width="1.5" height="1.5" fill="#333"/>
<rect x="365.25" y="438.85" width="1.5" height="1.5" fill="#333"/>
<rect x="365.25" y="440.55" width="1.5" height="1.5" fill="#333"/>
<rect x="365.25" y="443.05" width="1.5" height="1.5" fill="#333"/>
<rect x="365.25" y="448.05" width="1.5" height="1.5" fill="#333"/>
<rect x="365.25" y="450.75" width="1.5" height="1.5" fill="#333"/>
<rect x="365.25" y="452.75" width="1.5" height="1.5" fill="#333"/>
<path d="M351.2 487.8 L381.2 487.8 L381.2 499.3 L374.3 500.8 L381.2 502.3 L381.2 508.5 L351.2 508.5 L351.2 502.3 L358.09999999999997 500.8 L351.2 499.3 Z" fill="#8c8c8c"/>
<line x1="358.09999999999997" y1="500.8" x2="374.3" y2="500.8" stroke="#000" stroke-width="1.4"/>
<line x1="406" y1="489" x2="406" y2="507.8" stroke="#4a4a4a" stroke-width="1.8"/>
<line x1="406" y1="517.7" x2="406" y2="525.8" stroke="#4a4a4a" stroke-width="1.8"/>
<rect x="405.25" y="420.25" width="1.5" height="1.5" fill="#333"/>
<rect x="405.25" y="439.25" width="1.5" height="1.5" fill="#333"/>
<rect x="405.25" y="444.95" width="1.5" height="1.5" fill="#333"/>
<rect x="405.25" y="451.35" width="1.5" height="1.5" fill="#333"/>
<rect x="405.25" y="455.75" width="1.5" height="1.5" fill="#333"/>
<rect x="405.25" y="465.25" width="1.5" height="1.5" fill="#333"/>
<rect x="405.25" y="467.05" width="1.5" height="1.5" fill="#333"/>
<rect x="405.25" y="470.55" width="1.5" height="1.5" fill="#333"/>
<rect x="405.25" y="475.55" width="1.5" height="1.5" fill="#333"/>
<rect x="405.25" y="483.35" width="1.5" height="1.5" fill="#333"/>
<rect x="405.25" y="485.25" width="1.5" height="1.5" fill="#333"/>
<rect x="405.25" y="487.25" width="1.5" height="1.5" fill="#333"/>
<path d="M391.4 507.8 L421.7 507.8 L421.7 511.5 L415.04999999999995 513.2 L421.7 514.6 L421.7 517.7 L391.4 517.7 L391.4 514.6 L398.04999999999995 513.2 L391.4 511.5 Z" fill="#2e4a7e"/>
<line x1="398.04999999999995" y1="513.2" x2="415.04999999999995" y2="513.2" stroke="#000" stroke-width="1.4"/>
<line x1="366.8" y1="406.6" x2="406.5" y2="406.6" stroke="#111" stroke-width="1.2"/>
<line x1="382.15" y1="398.85" x2="382.15" y2="401.35" stroke="#111" stroke-width="0.75"/>
<line x1="381.07" y1="399.48" x2="383.23" y2="400.73" stroke="#111" stroke-width="0.75"/>
<line x1="383.23" y1="399.48" x2="381.07" y2="400.73" stroke="#111" stroke-width="0.75"/>
<line x1="386.25" y1="398.85" x2="386.25" y2="401.35" stroke="#111" stroke-width="0.75"/>
<line x1="385.17" y1="399.48" x2="387.33" y2="400.73" stroke="#111" stroke-width="0.75"/>
<line x1="387.33" y1="399.48" x2="385.17" y2="400.73" stroke="#111" stroke-width="0.75"/>
<line x1="390.35" y1="398.85" x2="390.35" y2="401.35" stroke="#111" stroke-width="0.75"/>
<line x1="389.27" y1="399.48" x2="391.43" y2="400.73" stroke="#111" stroke-width="0.75"/>
<line x1="391.43" y1="399.48" x2="389.27" y2="400.73" stroke="#111" stroke-width="0.75"/>
<text transform="translate(356.1 542.05)" font-size="8.400" fill="#222" stroke="#222" stroke-width="0.24">eRNA</text>
<text transform="translate(394.8 541.52)" font-size="8.400" fill="#222" stroke="#222" stroke-width="0.24">pRNA</text>
<text transform="translate(317.08 489.81) rotate(-90)" font-size="9.200" fill="#222" stroke="#222" stroke-width="0.24">Specificity</text>
</svg></body></html>
